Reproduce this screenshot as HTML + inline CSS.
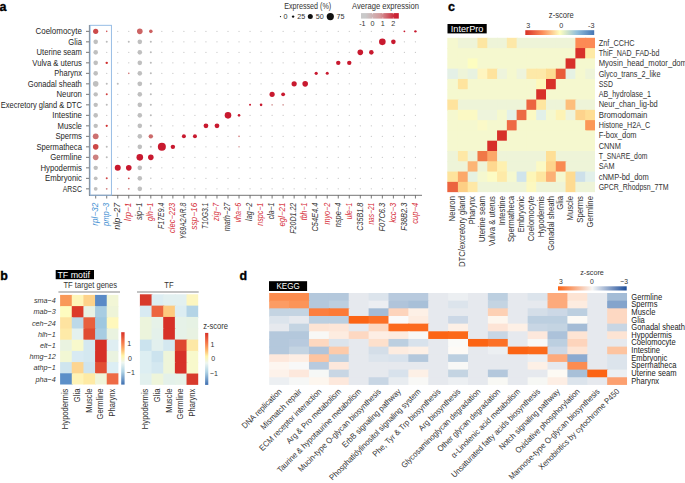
<!DOCTYPE html>
<html><head><meta charset="utf-8"><style>
html,body{margin:0;padding:0;background:#fff;}
svg{display:block;}
text{font-family:"Liberation Sans", sans-serif;}
</style></head><body>
<svg width="685" height="483" viewBox="0 0 685 483">
<rect width="685" height="483" fill="#fff"/>
<text x="-0.50" y="10.60" font-size="12.5" text-anchor="start" fill="#000" font-weight="bold" stroke="#000" stroke-width="0.35">a</text>
<text x="81.90" y="34.15" font-size="8.2" text-anchor="end" fill="#262626" font-weight="normal" textLength="46.4" lengthAdjust="spacingAndGlyphs">Coelomocyte</text>
<line x1="86.00" y1="31.35" x2="89.30" y2="31.35" stroke="#555" stroke-width="0.8"/>
<text x="81.90" y="44.65" font-size="8.2" text-anchor="end" fill="#262626" font-weight="normal" textLength="13.6" lengthAdjust="spacingAndGlyphs">Glia</text>
<line x1="86.00" y1="41.85" x2="89.30" y2="41.85" stroke="#555" stroke-width="0.8"/>
<text x="81.90" y="55.15" font-size="8.2" text-anchor="end" fill="#262626" font-weight="normal" textLength="45.3" lengthAdjust="spacingAndGlyphs">Uterine seam</text>
<line x1="86.00" y1="52.35" x2="89.30" y2="52.35" stroke="#555" stroke-width="0.8"/>
<text x="81.90" y="65.65" font-size="8.2" text-anchor="end" fill="#262626" font-weight="normal" textLength="49.6" lengthAdjust="spacingAndGlyphs">Vulva &amp; uterus</text>
<line x1="86.00" y1="62.85" x2="89.30" y2="62.85" stroke="#555" stroke-width="0.8"/>
<text x="81.90" y="76.15" font-size="8.2" text-anchor="end" fill="#262626" font-weight="normal" textLength="27.6" lengthAdjust="spacingAndGlyphs">Pharynx</text>
<line x1="86.00" y1="73.35" x2="89.30" y2="73.35" stroke="#555" stroke-width="0.8"/>
<text x="81.90" y="86.65" font-size="8.2" text-anchor="end" fill="#262626" font-weight="normal" textLength="54.2" lengthAdjust="spacingAndGlyphs">Gonadal sheath</text>
<line x1="86.00" y1="83.85" x2="89.30" y2="83.85" stroke="#555" stroke-width="0.8"/>
<text x="81.90" y="97.15" font-size="8.2" text-anchor="end" fill="#262626" font-weight="normal" textLength="25.4" lengthAdjust="spacingAndGlyphs">Neuron</text>
<line x1="86.00" y1="94.35" x2="89.30" y2="94.35" stroke="#555" stroke-width="0.8"/>
<text x="81.90" y="107.65" font-size="8.2" text-anchor="end" fill="#262626" font-weight="normal" textLength="81.2" lengthAdjust="spacingAndGlyphs">Execretory gland &amp; DTC</text>
<line x1="86.00" y1="104.85" x2="89.30" y2="104.85" stroke="#555" stroke-width="0.8"/>
<text x="81.90" y="118.15" font-size="8.2" text-anchor="end" fill="#262626" font-weight="normal" textLength="29.6" lengthAdjust="spacingAndGlyphs">Intestine</text>
<line x1="86.00" y1="115.35" x2="89.30" y2="115.35" stroke="#555" stroke-width="0.8"/>
<text x="81.90" y="128.65" font-size="8.2" text-anchor="end" fill="#262626" font-weight="normal" textLength="24.4" lengthAdjust="spacingAndGlyphs">Muscle</text>
<line x1="86.00" y1="125.85" x2="89.30" y2="125.85" stroke="#555" stroke-width="0.8"/>
<text x="81.90" y="139.15" font-size="8.2" text-anchor="end" fill="#262626" font-weight="normal" textLength="26.5" lengthAdjust="spacingAndGlyphs">Sperms</text>
<line x1="86.00" y1="136.35" x2="89.30" y2="136.35" stroke="#555" stroke-width="0.8"/>
<text x="81.90" y="149.65" font-size="8.2" text-anchor="end" fill="#262626" font-weight="normal" textLength="45.5" lengthAdjust="spacingAndGlyphs">Spermatheca</text>
<line x1="86.00" y1="146.85" x2="89.30" y2="146.85" stroke="#555" stroke-width="0.8"/>
<text x="81.90" y="160.15" font-size="8.2" text-anchor="end" fill="#262626" font-weight="normal" textLength="31.6" lengthAdjust="spacingAndGlyphs">Germline</text>
<line x1="86.00" y1="157.35" x2="89.30" y2="157.35" stroke="#555" stroke-width="0.8"/>
<text x="81.90" y="170.65" font-size="8.2" text-anchor="end" fill="#262626" font-weight="normal" textLength="41.4" lengthAdjust="spacingAndGlyphs">Hypodermis</text>
<line x1="86.00" y1="167.85" x2="89.30" y2="167.85" stroke="#555" stroke-width="0.8"/>
<text x="81.90" y="181.15" font-size="8.2" text-anchor="end" fill="#262626" font-weight="normal" textLength="36.8" lengthAdjust="spacingAndGlyphs">Embryonic</text>
<line x1="86.00" y1="178.35" x2="89.30" y2="178.35" stroke="#555" stroke-width="0.8"/>
<text x="81.90" y="191.65" font-size="8.2" text-anchor="end" fill="#262626" font-weight="normal" textLength="19.2" lengthAdjust="spacingAndGlyphs">ARSC</text>
<line x1="86.00" y1="188.85" x2="89.30" y2="188.85" stroke="#555" stroke-width="0.8"/>
<line x1="89.40" y1="25.00" x2="89.40" y2="195.60" stroke="#666" stroke-width="0.9"/>
<line x1="89.00" y1="195.30" x2="422.00" y2="195.30" stroke="#666" stroke-width="0.9"/>
<line x1="95.70" y1="195.30" x2="95.70" y2="198.50" stroke="#555" stroke-width="0.8"/>
<text x="98.00" y="202.70" font-size="8.2" text-anchor="end" fill="#4490d2" font-weight="normal" font-style="italic" transform="rotate(-90 98.0 202.7)" textLength="23.0" lengthAdjust="spacingAndGlyphs">rpl−32</text>
<line x1="106.73" y1="195.30" x2="106.73" y2="198.50" stroke="#555" stroke-width="0.8"/>
<text x="109.03" y="202.70" font-size="8.2" text-anchor="end" fill="#4490d2" font-weight="normal" font-style="italic" transform="rotate(-90 109.025 202.7)" textLength="23.3" lengthAdjust="spacingAndGlyphs">pmp−3</text>
<line x1="117.75" y1="195.30" x2="117.75" y2="198.50" stroke="#555" stroke-width="0.8"/>
<text x="120.05" y="202.70" font-size="8.2" text-anchor="end" fill="#333" font-weight="normal" font-style="italic" transform="rotate(-90 120.05 202.7)" textLength="27.0" lengthAdjust="spacingAndGlyphs">nlp−27</text>
<line x1="128.78" y1="195.30" x2="128.78" y2="198.50" stroke="#555" stroke-width="0.8"/>
<text x="131.08" y="202.70" font-size="8.2" text-anchor="end" fill="#d62f3a" font-weight="normal" font-style="italic" transform="rotate(-90 131.07500000000002 202.7)" textLength="18.2" lengthAdjust="spacingAndGlyphs">lrp−1</text>
<line x1="139.80" y1="195.30" x2="139.80" y2="198.50" stroke="#555" stroke-width="0.8"/>
<text x="142.10" y="202.70" font-size="8.2" text-anchor="end" fill="#333" font-weight="normal" font-style="italic" transform="rotate(-90 142.10000000000002 202.7)" textLength="17.4" lengthAdjust="spacingAndGlyphs">sip−1</text>
<line x1="150.82" y1="195.30" x2="150.82" y2="198.50" stroke="#555" stroke-width="0.8"/>
<text x="153.12" y="202.70" font-size="8.2" text-anchor="end" fill="#d62f3a" font-weight="normal" font-style="italic" transform="rotate(-90 153.125 202.7)" textLength="18.2" lengthAdjust="spacingAndGlyphs">glh−1</text>
<line x1="161.85" y1="195.30" x2="161.85" y2="198.50" stroke="#555" stroke-width="0.8"/>
<text x="164.15" y="202.70" font-size="8.2" text-anchor="end" fill="#333" font-weight="normal" font-style="italic" transform="rotate(-90 164.15000000000003 202.7)" textLength="26.2" lengthAdjust="spacingAndGlyphs">F17E9.4</text>
<line x1="172.88" y1="195.30" x2="172.88" y2="198.50" stroke="#555" stroke-width="0.8"/>
<text x="175.18" y="202.70" font-size="8.2" text-anchor="end" fill="#d62f3a" font-weight="normal" font-style="italic" transform="rotate(-90 175.175 202.7)" textLength="30.2" lengthAdjust="spacingAndGlyphs">clec−223</text>
<line x1="183.90" y1="195.30" x2="183.90" y2="198.50" stroke="#555" stroke-width="0.8"/>
<text x="186.20" y="202.70" font-size="8.2" text-anchor="end" fill="#333" font-weight="normal" font-style="italic" transform="rotate(-90 186.20000000000002 202.7)" textLength="36.6" lengthAdjust="spacingAndGlyphs">Y69A2AR.8</text>
<line x1="194.93" y1="195.30" x2="194.93" y2="198.50" stroke="#555" stroke-width="0.8"/>
<text x="197.23" y="202.70" font-size="8.2" text-anchor="end" fill="#d62f3a" font-weight="normal" font-style="italic" transform="rotate(-90 197.22500000000002 202.7)" textLength="27.0" lengthAdjust="spacingAndGlyphs">ssp−16</text>
<line x1="205.95" y1="195.30" x2="205.95" y2="198.50" stroke="#555" stroke-width="0.8"/>
<text x="208.25" y="202.70" font-size="8.2" text-anchor="end" fill="#333" font-weight="normal" font-style="italic" transform="rotate(-90 208.25 202.7)" textLength="26.2" lengthAdjust="spacingAndGlyphs">T10G3.1</text>
<line x1="216.98" y1="195.30" x2="216.98" y2="198.50" stroke="#555" stroke-width="0.8"/>
<text x="219.28" y="202.70" font-size="8.2" text-anchor="end" fill="#d62f3a" font-weight="normal" font-style="italic" transform="rotate(-90 219.27500000000003 202.7)" textLength="18.2" lengthAdjust="spacingAndGlyphs">zig−7</text>
<line x1="228.00" y1="195.30" x2="228.00" y2="198.50" stroke="#555" stroke-width="0.8"/>
<text x="230.30" y="202.70" font-size="8.2" text-anchor="end" fill="#333" font-weight="normal" font-style="italic" transform="rotate(-90 230.3 202.7)" textLength="28.6" lengthAdjust="spacingAndGlyphs">math−27</text>
<line x1="239.03" y1="195.30" x2="239.03" y2="198.50" stroke="#555" stroke-width="0.8"/>
<text x="241.33" y="202.70" font-size="8.2" text-anchor="end" fill="#d62f3a" font-weight="normal" font-style="italic" transform="rotate(-90 241.32500000000005 202.7)" textLength="19.8" lengthAdjust="spacingAndGlyphs">vha−6</text>
<line x1="250.05" y1="195.30" x2="250.05" y2="198.50" stroke="#555" stroke-width="0.8"/>
<text x="252.35" y="202.70" font-size="8.2" text-anchor="end" fill="#333" font-weight="normal" font-style="italic" transform="rotate(-90 252.35000000000002 202.7)" textLength="18.2" lengthAdjust="spacingAndGlyphs">lag−2</text>
<line x1="261.07" y1="195.30" x2="261.07" y2="198.50" stroke="#555" stroke-width="0.8"/>
<text x="263.38" y="202.70" font-size="8.2" text-anchor="end" fill="#d62f3a" font-weight="normal" font-style="italic" transform="rotate(-90 263.375 202.7)" textLength="23.0" lengthAdjust="spacingAndGlyphs">nspc−1</text>
<line x1="272.10" y1="195.30" x2="272.10" y2="198.50" stroke="#555" stroke-width="0.8"/>
<text x="274.40" y="202.70" font-size="8.2" text-anchor="end" fill="#333" font-weight="normal" font-style="italic" transform="rotate(-90 274.40000000000003 202.7)" textLength="16.6" lengthAdjust="spacingAndGlyphs">cla−1</text>
<line x1="283.12" y1="195.30" x2="283.12" y2="198.50" stroke="#555" stroke-width="0.8"/>
<text x="285.43" y="202.70" font-size="8.2" text-anchor="end" fill="#d62f3a" font-weight="normal" font-style="italic" transform="rotate(-90 285.425 202.7)" textLength="23.8" lengthAdjust="spacingAndGlyphs">egl−21</text>
<line x1="294.15" y1="195.30" x2="294.15" y2="198.50" stroke="#555" stroke-width="0.8"/>
<text x="296.45" y="202.70" font-size="8.2" text-anchor="end" fill="#333" font-weight="normal" font-style="italic" transform="rotate(-90 296.45000000000005 202.7)" textLength="31.0" lengthAdjust="spacingAndGlyphs">F20D1.22</text>
<line x1="305.18" y1="195.30" x2="305.18" y2="198.50" stroke="#555" stroke-width="0.8"/>
<text x="307.48" y="202.70" font-size="8.2" text-anchor="end" fill="#d62f3a" font-weight="normal" font-style="italic" transform="rotate(-90 307.475 202.7)" textLength="17.5" lengthAdjust="spacingAndGlyphs">tbh−1</text>
<line x1="316.20" y1="195.30" x2="316.20" y2="198.50" stroke="#555" stroke-width="0.8"/>
<text x="318.50" y="202.70" font-size="8.2" text-anchor="end" fill="#333" font-weight="normal" font-style="italic" transform="rotate(-90 318.5 202.7)" textLength="28.9" lengthAdjust="spacingAndGlyphs">C54E4.4</text>
<line x1="327.23" y1="195.30" x2="327.23" y2="198.50" stroke="#555" stroke-width="0.8"/>
<text x="329.53" y="202.70" font-size="8.2" text-anchor="end" fill="#d62f3a" font-weight="normal" font-style="italic" transform="rotate(-90 329.52500000000003 202.7)" textLength="21.9" lengthAdjust="spacingAndGlyphs">myo−2</text>
<line x1="338.25" y1="195.30" x2="338.25" y2="198.50" stroke="#555" stroke-width="0.8"/>
<text x="340.55" y="202.70" font-size="8.2" text-anchor="end" fill="#333" font-weight="normal" font-style="italic" transform="rotate(-90 340.55 202.7)" textLength="24.5" lengthAdjust="spacingAndGlyphs">nspe−4</text>
<line x1="349.28" y1="195.30" x2="349.28" y2="198.50" stroke="#555" stroke-width="0.8"/>
<text x="351.58" y="202.70" font-size="8.2" text-anchor="end" fill="#d62f3a" font-weight="normal" font-style="italic" transform="rotate(-90 351.57500000000005 202.7)" textLength="16.6" lengthAdjust="spacingAndGlyphs">ule−1</text>
<line x1="360.30" y1="195.30" x2="360.30" y2="198.50" stroke="#555" stroke-width="0.8"/>
<text x="362.60" y="202.70" font-size="8.2" text-anchor="end" fill="#333" font-weight="normal" font-style="italic" transform="rotate(-90 362.6 202.7)" textLength="28.0" lengthAdjust="spacingAndGlyphs">C35B1.8</text>
<line x1="371.32" y1="195.30" x2="371.32" y2="198.50" stroke="#555" stroke-width="0.8"/>
<text x="373.62" y="202.70" font-size="8.2" text-anchor="end" fill="#d62f3a" font-weight="normal" font-style="italic" transform="rotate(-90 373.625 202.7)" textLength="21.9" lengthAdjust="spacingAndGlyphs">nas−21</text>
<line x1="382.35" y1="195.30" x2="382.35" y2="198.50" stroke="#555" stroke-width="0.8"/>
<text x="384.65" y="202.70" font-size="8.2" text-anchor="end" fill="#333" font-weight="normal" font-style="italic" transform="rotate(-90 384.65000000000003 202.7)" textLength="28.9" lengthAdjust="spacingAndGlyphs">F07C6.3</text>
<line x1="393.38" y1="195.30" x2="393.38" y2="198.50" stroke="#555" stroke-width="0.8"/>
<text x="395.68" y="202.70" font-size="8.2" text-anchor="end" fill="#d62f3a" font-weight="normal" font-style="italic" transform="rotate(-90 395.675 202.7)" textLength="20.1" lengthAdjust="spacingAndGlyphs">kcc−3</text>
<line x1="404.40" y1="195.30" x2="404.40" y2="198.50" stroke="#555" stroke-width="0.8"/>
<text x="406.70" y="202.70" font-size="8.2" text-anchor="end" fill="#333" font-weight="normal" font-style="italic" transform="rotate(-90 406.7 202.7)" textLength="28.0" lengthAdjust="spacingAndGlyphs">F38B2.3</text>
<line x1="415.43" y1="195.30" x2="415.43" y2="198.50" stroke="#555" stroke-width="0.8"/>
<text x="417.73" y="202.70" font-size="8.2" text-anchor="end" fill="#d62f3a" font-weight="normal" font-style="italic" transform="rotate(-90 417.725 202.7)" textLength="21.0" lengthAdjust="spacingAndGlyphs">cup−4</text>
<rect x="90.1" y="25.3" width="21.3" height="169.9" fill="none" stroke="#8cb6e2" stroke-width="0.9"/>
<circle cx="95.70" cy="31.35" r="2.60" fill="#cc4a4a"/>
<circle cx="106.73" cy="31.35" r="0.80" fill="#d05050"/>
<circle cx="117.75" cy="31.35" r="0.65" fill="#c4c4c4"/>
<circle cx="128.78" cy="31.35" r="0.65" fill="#c4c4c4"/>
<circle cx="139.80" cy="31.35" r="2.80" fill="#cc6464"/>
<circle cx="150.82" cy="31.35" r="1.80" fill="#cc6060"/>
<circle cx="161.85" cy="31.35" r="0.65" fill="#c4c4c4"/>
<circle cx="172.88" cy="31.35" r="0.65" fill="#c4c4c4"/>
<circle cx="183.90" cy="31.35" r="0.65" fill="#c4c4c4"/>
<circle cx="194.93" cy="31.35" r="0.65" fill="#c4c4c4"/>
<circle cx="205.95" cy="31.35" r="0.65" fill="#c4c4c4"/>
<circle cx="216.98" cy="31.35" r="0.65" fill="#c4c4c4"/>
<circle cx="228.00" cy="31.35" r="0.65" fill="#c4c4c4"/>
<circle cx="239.03" cy="31.35" r="0.65" fill="#c4c4c4"/>
<circle cx="250.05" cy="31.35" r="0.65" fill="#c4c4c4"/>
<circle cx="261.07" cy="31.35" r="0.65" fill="#c4c4c4"/>
<circle cx="272.10" cy="31.35" r="0.65" fill="#c4c4c4"/>
<circle cx="283.12" cy="31.35" r="0.65" fill="#c4c4c4"/>
<circle cx="294.15" cy="31.35" r="0.65" fill="#c4c4c4"/>
<circle cx="305.18" cy="31.35" r="0.65" fill="#c4c4c4"/>
<circle cx="316.20" cy="31.35" r="0.65" fill="#c4c4c4"/>
<circle cx="327.23" cy="31.35" r="0.65" fill="#c4c4c4"/>
<circle cx="338.25" cy="31.35" r="0.65" fill="#c4c4c4"/>
<circle cx="349.28" cy="31.35" r="0.65" fill="#c4c4c4"/>
<circle cx="360.30" cy="31.35" r="0.65" fill="#c4c4c4"/>
<circle cx="371.32" cy="31.35" r="0.65" fill="#c4c4c4"/>
<circle cx="382.35" cy="31.35" r="0.65" fill="#c4c4c4"/>
<circle cx="393.38" cy="31.35" r="0.65" fill="#c4c4c4"/>
<circle cx="404.40" cy="31.35" r="0.90" fill="#c8192f"/>
<circle cx="415.43" cy="31.35" r="1.20" fill="#c8192f"/>
<circle cx="95.70" cy="41.85" r="2.30" fill="#bfbfbf"/>
<circle cx="106.73" cy="41.85" r="1.00" fill="#bbbbbb"/>
<circle cx="117.75" cy="41.85" r="0.65" fill="#c4c4c4"/>
<circle cx="128.78" cy="41.85" r="1.00" fill="#bbbbbb"/>
<circle cx="139.80" cy="41.85" r="2.30" fill="#bfbfbf"/>
<circle cx="150.82" cy="41.85" r="1.00" fill="#bbbbbb"/>
<circle cx="161.85" cy="41.85" r="0.65" fill="#c4c4c4"/>
<circle cx="172.88" cy="41.85" r="0.65" fill="#c4c4c4"/>
<circle cx="183.90" cy="41.85" r="0.65" fill="#c4c4c4"/>
<circle cx="194.93" cy="41.85" r="0.65" fill="#c4c4c4"/>
<circle cx="205.95" cy="41.85" r="0.65" fill="#c4c4c4"/>
<circle cx="216.98" cy="41.85" r="0.65" fill="#c4c4c4"/>
<circle cx="228.00" cy="41.85" r="0.65" fill="#c4c4c4"/>
<circle cx="239.03" cy="41.85" r="0.65" fill="#c4c4c4"/>
<circle cx="250.05" cy="41.85" r="0.65" fill="#c4c4c4"/>
<circle cx="261.07" cy="41.85" r="0.65" fill="#c4c4c4"/>
<circle cx="272.10" cy="41.85" r="0.65" fill="#c4c4c4"/>
<circle cx="283.12" cy="41.85" r="0.65" fill="#c4c4c4"/>
<circle cx="294.15" cy="41.85" r="0.65" fill="#c4c4c4"/>
<circle cx="305.18" cy="41.85" r="0.65" fill="#c4c4c4"/>
<circle cx="316.20" cy="41.85" r="0.65" fill="#c4c4c4"/>
<circle cx="327.23" cy="41.85" r="0.65" fill="#c4c4c4"/>
<circle cx="338.25" cy="41.85" r="0.65" fill="#c4c4c4"/>
<circle cx="349.28" cy="41.85" r="0.65" fill="#c4c4c4"/>
<circle cx="360.30" cy="41.85" r="0.65" fill="#c4c4c4"/>
<circle cx="371.32" cy="41.85" r="0.65" fill="#c4c4c4"/>
<circle cx="382.35" cy="41.85" r="3.30" fill="#c8192f"/>
<circle cx="393.38" cy="41.85" r="2.30" fill="#c8192f"/>
<circle cx="404.40" cy="41.85" r="0.65" fill="#c4c4c4"/>
<circle cx="415.43" cy="41.85" r="0.65" fill="#c4c4c4"/>
<circle cx="95.70" cy="52.35" r="2.30" fill="#bfbfbf"/>
<circle cx="106.73" cy="52.35" r="0.70" fill="#c8c8c8"/>
<circle cx="117.75" cy="52.35" r="0.65" fill="#c4c4c4"/>
<circle cx="128.78" cy="52.35" r="0.65" fill="#c4c4c4"/>
<circle cx="139.80" cy="52.35" r="2.30" fill="#bfbfbf"/>
<circle cx="150.82" cy="52.35" r="1.00" fill="#bbbbbb"/>
<circle cx="161.85" cy="52.35" r="0.65" fill="#c4c4c4"/>
<circle cx="172.88" cy="52.35" r="0.65" fill="#c4c4c4"/>
<circle cx="183.90" cy="52.35" r="0.65" fill="#c4c4c4"/>
<circle cx="194.93" cy="52.35" r="0.65" fill="#c4c4c4"/>
<circle cx="205.95" cy="52.35" r="0.65" fill="#c4c4c4"/>
<circle cx="216.98" cy="52.35" r="0.65" fill="#c4c4c4"/>
<circle cx="228.00" cy="52.35" r="0.65" fill="#c4c4c4"/>
<circle cx="239.03" cy="52.35" r="0.65" fill="#c4c4c4"/>
<circle cx="250.05" cy="52.35" r="0.65" fill="#c4c4c4"/>
<circle cx="261.07" cy="52.35" r="0.65" fill="#c4c4c4"/>
<circle cx="272.10" cy="52.35" r="0.65" fill="#c4c4c4"/>
<circle cx="283.12" cy="52.35" r="0.65" fill="#c4c4c4"/>
<circle cx="294.15" cy="52.35" r="0.65" fill="#c4c4c4"/>
<circle cx="305.18" cy="52.35" r="0.65" fill="#c4c4c4"/>
<circle cx="316.20" cy="52.35" r="0.65" fill="#c4c4c4"/>
<circle cx="327.23" cy="52.35" r="0.65" fill="#c4c4c4"/>
<circle cx="338.25" cy="52.35" r="0.65" fill="#c4c4c4"/>
<circle cx="349.28" cy="52.35" r="0.65" fill="#c4c4c4"/>
<circle cx="360.30" cy="52.35" r="2.80" fill="#c8192f"/>
<circle cx="371.32" cy="52.35" r="2.30" fill="#c8192f"/>
<circle cx="382.35" cy="52.35" r="0.65" fill="#c4c4c4"/>
<circle cx="393.38" cy="52.35" r="0.65" fill="#c4c4c4"/>
<circle cx="404.40" cy="52.35" r="0.65" fill="#c4c4c4"/>
<circle cx="415.43" cy="52.35" r="0.65" fill="#c4c4c4"/>
<circle cx="95.70" cy="62.85" r="2.30" fill="#bfbfbf"/>
<circle cx="106.73" cy="62.85" r="1.20" fill="#d03030"/>
<circle cx="117.75" cy="62.85" r="0.65" fill="#c4c4c4"/>
<circle cx="128.78" cy="62.85" r="0.65" fill="#c4c4c4"/>
<circle cx="139.80" cy="62.85" r="2.30" fill="#bfbfbf"/>
<circle cx="150.82" cy="62.85" r="1.00" fill="#bbbbbb"/>
<circle cx="161.85" cy="62.85" r="0.65" fill="#c4c4c4"/>
<circle cx="172.88" cy="62.85" r="0.65" fill="#c4c4c4"/>
<circle cx="183.90" cy="62.85" r="0.65" fill="#c4c4c4"/>
<circle cx="194.93" cy="62.85" r="0.65" fill="#c4c4c4"/>
<circle cx="205.95" cy="62.85" r="0.65" fill="#c4c4c4"/>
<circle cx="216.98" cy="62.85" r="0.65" fill="#c4c4c4"/>
<circle cx="228.00" cy="62.85" r="0.65" fill="#c4c4c4"/>
<circle cx="239.03" cy="62.85" r="0.65" fill="#c4c4c4"/>
<circle cx="250.05" cy="62.85" r="0.65" fill="#c4c4c4"/>
<circle cx="261.07" cy="62.85" r="0.65" fill="#c4c4c4"/>
<circle cx="272.10" cy="62.85" r="0.65" fill="#c4c4c4"/>
<circle cx="283.12" cy="62.85" r="0.65" fill="#c4c4c4"/>
<circle cx="294.15" cy="62.85" r="0.65" fill="#c4c4c4"/>
<circle cx="305.18" cy="62.85" r="0.65" fill="#c4c4c4"/>
<circle cx="316.20" cy="62.85" r="0.65" fill="#c4c4c4"/>
<circle cx="327.23" cy="62.85" r="0.65" fill="#c4c4c4"/>
<circle cx="338.25" cy="62.85" r="2.20" fill="#c8192f"/>
<circle cx="349.28" cy="62.85" r="2.20" fill="#c8192f"/>
<circle cx="360.30" cy="62.85" r="0.65" fill="#c4c4c4"/>
<circle cx="371.32" cy="62.85" r="0.65" fill="#c4c4c4"/>
<circle cx="382.35" cy="62.85" r="0.65" fill="#c4c4c4"/>
<circle cx="393.38" cy="62.85" r="0.65" fill="#c4c4c4"/>
<circle cx="404.40" cy="62.85" r="0.65" fill="#c4c4c4"/>
<circle cx="415.43" cy="62.85" r="0.65" fill="#c4c4c4"/>
<circle cx="95.70" cy="73.35" r="2.30" fill="#bfbfbf"/>
<circle cx="106.73" cy="73.35" r="0.70" fill="#c8c8c8"/>
<circle cx="117.75" cy="73.35" r="0.65" fill="#c4c4c4"/>
<circle cx="128.78" cy="73.35" r="0.80" fill="#d07070"/>
<circle cx="139.80" cy="73.35" r="2.30" fill="#bfbfbf"/>
<circle cx="150.82" cy="73.35" r="1.00" fill="#bbbbbb"/>
<circle cx="161.85" cy="73.35" r="0.65" fill="#c4c4c4"/>
<circle cx="172.88" cy="73.35" r="0.65" fill="#c4c4c4"/>
<circle cx="183.90" cy="73.35" r="0.65" fill="#c4c4c4"/>
<circle cx="194.93" cy="73.35" r="0.65" fill="#c4c4c4"/>
<circle cx="205.95" cy="73.35" r="0.65" fill="#c4c4c4"/>
<circle cx="216.98" cy="73.35" r="0.65" fill="#c4c4c4"/>
<circle cx="228.00" cy="73.35" r="0.65" fill="#c4c4c4"/>
<circle cx="239.03" cy="73.35" r="0.65" fill="#c4c4c4"/>
<circle cx="250.05" cy="73.35" r="0.65" fill="#c4c4c4"/>
<circle cx="261.07" cy="73.35" r="0.65" fill="#c4c4c4"/>
<circle cx="272.10" cy="73.35" r="0.65" fill="#c4c4c4"/>
<circle cx="283.12" cy="73.35" r="0.65" fill="#c4c4c4"/>
<circle cx="294.15" cy="73.35" r="0.65" fill="#c4c4c4"/>
<circle cx="305.18" cy="73.35" r="0.65" fill="#c4c4c4"/>
<circle cx="316.20" cy="73.35" r="1.60" fill="#c8192f"/>
<circle cx="327.23" cy="73.35" r="1.50" fill="#c8192f"/>
<circle cx="338.25" cy="73.35" r="0.65" fill="#c4c4c4"/>
<circle cx="349.28" cy="73.35" r="0.65" fill="#c4c4c4"/>
<circle cx="360.30" cy="73.35" r="0.65" fill="#c4c4c4"/>
<circle cx="371.32" cy="73.35" r="0.65" fill="#c4c4c4"/>
<circle cx="382.35" cy="73.35" r="0.65" fill="#c4c4c4"/>
<circle cx="393.38" cy="73.35" r="0.65" fill="#c4c4c4"/>
<circle cx="404.40" cy="73.35" r="0.65" fill="#c4c4c4"/>
<circle cx="415.43" cy="73.35" r="0.65" fill="#c4c4c4"/>
<circle cx="95.70" cy="83.85" r="2.80" fill="#bfbfbf"/>
<circle cx="106.73" cy="83.85" r="1.00" fill="#bbbbbb"/>
<circle cx="117.75" cy="83.85" r="1.00" fill="#bbbbbb"/>
<circle cx="128.78" cy="83.85" r="0.65" fill="#c4c4c4"/>
<circle cx="139.80" cy="83.85" r="2.40" fill="#bfbfbf"/>
<circle cx="150.82" cy="83.85" r="1.00" fill="#bbbbbb"/>
<circle cx="161.85" cy="83.85" r="0.65" fill="#c4c4c4"/>
<circle cx="172.88" cy="83.85" r="0.65" fill="#c4c4c4"/>
<circle cx="183.90" cy="83.85" r="0.65" fill="#c4c4c4"/>
<circle cx="194.93" cy="83.85" r="0.65" fill="#c4c4c4"/>
<circle cx="205.95" cy="83.85" r="0.65" fill="#c4c4c4"/>
<circle cx="216.98" cy="83.85" r="0.65" fill="#c4c4c4"/>
<circle cx="228.00" cy="83.85" r="0.65" fill="#c4c4c4"/>
<circle cx="239.03" cy="83.85" r="0.65" fill="#c4c4c4"/>
<circle cx="250.05" cy="83.85" r="0.65" fill="#c4c4c4"/>
<circle cx="261.07" cy="83.85" r="0.65" fill="#c4c4c4"/>
<circle cx="272.10" cy="83.85" r="0.65" fill="#c4c4c4"/>
<circle cx="283.12" cy="83.85" r="0.65" fill="#c4c4c4"/>
<circle cx="294.15" cy="83.85" r="2.60" fill="#c8192f"/>
<circle cx="305.18" cy="83.85" r="2.80" fill="#c8192f"/>
<circle cx="316.20" cy="83.85" r="0.65" fill="#c4c4c4"/>
<circle cx="327.23" cy="83.85" r="0.65" fill="#c4c4c4"/>
<circle cx="338.25" cy="83.85" r="0.65" fill="#c4c4c4"/>
<circle cx="349.28" cy="83.85" r="0.65" fill="#c4c4c4"/>
<circle cx="360.30" cy="83.85" r="0.65" fill="#c4c4c4"/>
<circle cx="371.32" cy="83.85" r="0.65" fill="#c4c4c4"/>
<circle cx="382.35" cy="83.85" r="0.65" fill="#c4c4c4"/>
<circle cx="393.38" cy="83.85" r="0.65" fill="#c4c4c4"/>
<circle cx="404.40" cy="83.85" r="0.65" fill="#c4c4c4"/>
<circle cx="415.43" cy="83.85" r="0.65" fill="#c4c4c4"/>
<circle cx="95.70" cy="94.35" r="2.20" fill="#bfbfbf"/>
<circle cx="106.73" cy="94.35" r="1.00" fill="#d04040"/>
<circle cx="117.75" cy="94.35" r="0.65" fill="#c4c4c4"/>
<circle cx="128.78" cy="94.35" r="0.65" fill="#c4c4c4"/>
<circle cx="139.80" cy="94.35" r="2.30" fill="#bfbfbf"/>
<circle cx="150.82" cy="94.35" r="1.00" fill="#bbbbbb"/>
<circle cx="161.85" cy="94.35" r="0.65" fill="#c4c4c4"/>
<circle cx="172.88" cy="94.35" r="0.65" fill="#c4c4c4"/>
<circle cx="183.90" cy="94.35" r="0.65" fill="#c4c4c4"/>
<circle cx="194.93" cy="94.35" r="0.65" fill="#c4c4c4"/>
<circle cx="205.95" cy="94.35" r="0.65" fill="#c4c4c4"/>
<circle cx="216.98" cy="94.35" r="0.65" fill="#c4c4c4"/>
<circle cx="228.00" cy="94.35" r="0.65" fill="#c4c4c4"/>
<circle cx="239.03" cy="94.35" r="0.65" fill="#c4c4c4"/>
<circle cx="250.05" cy="94.35" r="0.65" fill="#c4c4c4"/>
<circle cx="261.07" cy="94.35" r="0.65" fill="#c4c4c4"/>
<circle cx="272.10" cy="94.35" r="2.60" fill="#c8192f"/>
<circle cx="283.12" cy="94.35" r="1.90" fill="#c8192f"/>
<circle cx="294.15" cy="94.35" r="0.65" fill="#c4c4c4"/>
<circle cx="305.18" cy="94.35" r="0.65" fill="#c4c4c4"/>
<circle cx="316.20" cy="94.35" r="0.65" fill="#c4c4c4"/>
<circle cx="327.23" cy="94.35" r="0.65" fill="#c4c4c4"/>
<circle cx="338.25" cy="94.35" r="0.65" fill="#c4c4c4"/>
<circle cx="349.28" cy="94.35" r="0.65" fill="#c4c4c4"/>
<circle cx="360.30" cy="94.35" r="0.65" fill="#c4c4c4"/>
<circle cx="371.32" cy="94.35" r="0.65" fill="#c4c4c4"/>
<circle cx="382.35" cy="94.35" r="0.65" fill="#c4c4c4"/>
<circle cx="393.38" cy="94.35" r="0.65" fill="#c4c4c4"/>
<circle cx="404.40" cy="94.35" r="0.65" fill="#c4c4c4"/>
<circle cx="415.43" cy="94.35" r="0.65" fill="#c4c4c4"/>
<circle cx="95.70" cy="104.85" r="2.20" fill="#bfbfbf"/>
<circle cx="106.73" cy="104.85" r="1.00" fill="#bbbbbb"/>
<circle cx="117.75" cy="104.85" r="0.65" fill="#c4c4c4"/>
<circle cx="128.78" cy="104.85" r="0.65" fill="#c4c4c4"/>
<circle cx="139.80" cy="104.85" r="2.30" fill="#bfbfbf"/>
<circle cx="150.82" cy="104.85" r="1.00" fill="#bbbbbb"/>
<circle cx="161.85" cy="104.85" r="0.65" fill="#c4c4c4"/>
<circle cx="172.88" cy="104.85" r="0.65" fill="#c4c4c4"/>
<circle cx="183.90" cy="104.85" r="0.65" fill="#c4c4c4"/>
<circle cx="194.93" cy="104.85" r="0.65" fill="#c4c4c4"/>
<circle cx="205.95" cy="104.85" r="0.65" fill="#c4c4c4"/>
<circle cx="216.98" cy="104.85" r="0.65" fill="#c4c4c4"/>
<circle cx="228.00" cy="104.85" r="0.65" fill="#c4c4c4"/>
<circle cx="239.03" cy="104.85" r="0.65" fill="#c4c4c4"/>
<circle cx="250.05" cy="104.85" r="1.00" fill="#c8192f"/>
<circle cx="261.07" cy="104.85" r="1.30" fill="#c8192f"/>
<circle cx="272.10" cy="104.85" r="0.90" fill="#d8a0a0"/>
<circle cx="283.12" cy="104.85" r="0.90" fill="#d8a0a0"/>
<circle cx="294.15" cy="104.85" r="0.65" fill="#c4c4c4"/>
<circle cx="305.18" cy="104.85" r="0.65" fill="#c4c4c4"/>
<circle cx="316.20" cy="104.85" r="0.65" fill="#c4c4c4"/>
<circle cx="327.23" cy="104.85" r="0.65" fill="#c4c4c4"/>
<circle cx="338.25" cy="104.85" r="0.65" fill="#c4c4c4"/>
<circle cx="349.28" cy="104.85" r="0.65" fill="#c4c4c4"/>
<circle cx="360.30" cy="104.85" r="0.65" fill="#c4c4c4"/>
<circle cx="371.32" cy="104.85" r="0.65" fill="#c4c4c4"/>
<circle cx="382.35" cy="104.85" r="0.65" fill="#c4c4c4"/>
<circle cx="393.38" cy="104.85" r="0.65" fill="#c4c4c4"/>
<circle cx="404.40" cy="104.85" r="0.65" fill="#c4c4c4"/>
<circle cx="415.43" cy="104.85" r="0.65" fill="#c4c4c4"/>
<circle cx="95.70" cy="115.35" r="2.30" fill="#bfbfbf"/>
<circle cx="106.73" cy="115.35" r="0.70" fill="#c8c8c8"/>
<circle cx="117.75" cy="115.35" r="0.65" fill="#c4c4c4"/>
<circle cx="128.78" cy="115.35" r="0.65" fill="#c4c4c4"/>
<circle cx="139.80" cy="115.35" r="2.30" fill="#bfbfbf"/>
<circle cx="150.82" cy="115.35" r="1.00" fill="#bbbbbb"/>
<circle cx="161.85" cy="115.35" r="0.65" fill="#c4c4c4"/>
<circle cx="172.88" cy="115.35" r="0.65" fill="#c4c4c4"/>
<circle cx="183.90" cy="115.35" r="0.65" fill="#c4c4c4"/>
<circle cx="194.93" cy="115.35" r="0.65" fill="#c4c4c4"/>
<circle cx="205.95" cy="115.35" r="0.65" fill="#c4c4c4"/>
<circle cx="216.98" cy="115.35" r="0.65" fill="#c4c4c4"/>
<circle cx="228.00" cy="115.35" r="3.30" fill="#c8192f"/>
<circle cx="239.03" cy="115.35" r="1.30" fill="#c8192f"/>
<circle cx="250.05" cy="115.35" r="0.65" fill="#c4c4c4"/>
<circle cx="261.07" cy="115.35" r="0.65" fill="#c4c4c4"/>
<circle cx="272.10" cy="115.35" r="0.65" fill="#c4c4c4"/>
<circle cx="283.12" cy="115.35" r="0.65" fill="#c4c4c4"/>
<circle cx="294.15" cy="115.35" r="0.65" fill="#c4c4c4"/>
<circle cx="305.18" cy="115.35" r="0.65" fill="#c4c4c4"/>
<circle cx="316.20" cy="115.35" r="0.65" fill="#c4c4c4"/>
<circle cx="327.23" cy="115.35" r="0.65" fill="#c4c4c4"/>
<circle cx="338.25" cy="115.35" r="0.65" fill="#c4c4c4"/>
<circle cx="349.28" cy="115.35" r="0.65" fill="#c4c4c4"/>
<circle cx="360.30" cy="115.35" r="0.65" fill="#c4c4c4"/>
<circle cx="371.32" cy="115.35" r="0.65" fill="#c4c4c4"/>
<circle cx="382.35" cy="115.35" r="0.65" fill="#c4c4c4"/>
<circle cx="393.38" cy="115.35" r="0.65" fill="#c4c4c4"/>
<circle cx="404.40" cy="115.35" r="0.65" fill="#c4c4c4"/>
<circle cx="415.43" cy="115.35" r="0.65" fill="#c4c4c4"/>
<circle cx="95.70" cy="125.85" r="2.20" fill="#bfbfbf"/>
<circle cx="106.73" cy="125.85" r="1.10" fill="#d03030"/>
<circle cx="117.75" cy="125.85" r="0.65" fill="#c4c4c4"/>
<circle cx="128.78" cy="125.85" r="0.65" fill="#c4c4c4"/>
<circle cx="139.80" cy="125.85" r="2.30" fill="#bfbfbf"/>
<circle cx="150.82" cy="125.85" r="1.00" fill="#bbbbbb"/>
<circle cx="161.85" cy="125.85" r="0.65" fill="#c4c4c4"/>
<circle cx="172.88" cy="125.85" r="0.65" fill="#c4c4c4"/>
<circle cx="183.90" cy="125.85" r="0.65" fill="#c4c4c4"/>
<circle cx="194.93" cy="125.85" r="0.65" fill="#c4c4c4"/>
<circle cx="205.95" cy="125.85" r="2.40" fill="#c8192f"/>
<circle cx="216.98" cy="125.85" r="2.40" fill="#c8192f"/>
<circle cx="228.00" cy="125.85" r="0.65" fill="#c4c4c4"/>
<circle cx="239.03" cy="125.85" r="0.65" fill="#c4c4c4"/>
<circle cx="250.05" cy="125.85" r="0.65" fill="#c4c4c4"/>
<circle cx="261.07" cy="125.85" r="0.65" fill="#c4c4c4"/>
<circle cx="272.10" cy="125.85" r="0.65" fill="#c4c4c4"/>
<circle cx="283.12" cy="125.85" r="0.65" fill="#c4c4c4"/>
<circle cx="294.15" cy="125.85" r="0.65" fill="#c4c4c4"/>
<circle cx="305.18" cy="125.85" r="0.65" fill="#c4c4c4"/>
<circle cx="316.20" cy="125.85" r="0.65" fill="#c4c4c4"/>
<circle cx="327.23" cy="125.85" r="0.65" fill="#c4c4c4"/>
<circle cx="338.25" cy="125.85" r="0.65" fill="#c4c4c4"/>
<circle cx="349.28" cy="125.85" r="0.65" fill="#c4c4c4"/>
<circle cx="360.30" cy="125.85" r="0.65" fill="#c4c4c4"/>
<circle cx="371.32" cy="125.85" r="0.65" fill="#c4c4c4"/>
<circle cx="382.35" cy="125.85" r="0.65" fill="#c4c4c4"/>
<circle cx="393.38" cy="125.85" r="0.65" fill="#c4c4c4"/>
<circle cx="404.40" cy="125.85" r="0.65" fill="#c4c4c4"/>
<circle cx="415.43" cy="125.85" r="0.65" fill="#c4c4c4"/>
<circle cx="95.70" cy="136.35" r="2.90" fill="#cc7070"/>
<circle cx="106.73" cy="136.35" r="0.70" fill="#c8c8c8"/>
<circle cx="117.75" cy="136.35" r="0.65" fill="#c4c4c4"/>
<circle cx="128.78" cy="136.35" r="0.65" fill="#c4c4c4"/>
<circle cx="139.80" cy="136.35" r="2.30" fill="#bfbfbf"/>
<circle cx="150.82" cy="136.35" r="2.20" fill="#cc6a6a"/>
<circle cx="161.85" cy="136.35" r="0.65" fill="#c4c4c4"/>
<circle cx="172.88" cy="136.35" r="0.65" fill="#c4c4c4"/>
<circle cx="183.90" cy="136.35" r="2.00" fill="#c8192f"/>
<circle cx="194.93" cy="136.35" r="2.00" fill="#c8192f"/>
<circle cx="205.95" cy="136.35" r="0.65" fill="#c4c4c4"/>
<circle cx="216.98" cy="136.35" r="0.65" fill="#c4c4c4"/>
<circle cx="228.00" cy="136.35" r="0.65" fill="#c4c4c4"/>
<circle cx="239.03" cy="136.35" r="0.80" fill="#d07070"/>
<circle cx="250.05" cy="136.35" r="0.65" fill="#c4c4c4"/>
<circle cx="261.07" cy="136.35" r="0.65" fill="#c4c4c4"/>
<circle cx="272.10" cy="136.35" r="0.65" fill="#c4c4c4"/>
<circle cx="283.12" cy="136.35" r="0.65" fill="#c4c4c4"/>
<circle cx="294.15" cy="136.35" r="0.65" fill="#c4c4c4"/>
<circle cx="305.18" cy="136.35" r="0.65" fill="#c4c4c4"/>
<circle cx="316.20" cy="136.35" r="0.65" fill="#c4c4c4"/>
<circle cx="327.23" cy="136.35" r="0.65" fill="#c4c4c4"/>
<circle cx="338.25" cy="136.35" r="0.65" fill="#c4c4c4"/>
<circle cx="349.28" cy="136.35" r="0.65" fill="#c4c4c4"/>
<circle cx="360.30" cy="136.35" r="0.65" fill="#c4c4c4"/>
<circle cx="371.32" cy="136.35" r="0.65" fill="#c4c4c4"/>
<circle cx="382.35" cy="136.35" r="0.65" fill="#c4c4c4"/>
<circle cx="393.38" cy="136.35" r="0.65" fill="#c4c4c4"/>
<circle cx="404.40" cy="136.35" r="0.65" fill="#c4c4c4"/>
<circle cx="415.43" cy="136.35" r="0.65" fill="#c4c4c4"/>
<circle cx="95.70" cy="146.85" r="2.80" fill="#cc4848"/>
<circle cx="106.73" cy="146.85" r="1.00" fill="#bbbbbb"/>
<circle cx="117.75" cy="146.85" r="0.65" fill="#c4c4c4"/>
<circle cx="128.78" cy="146.85" r="0.65" fill="#c4c4c4"/>
<circle cx="139.80" cy="146.85" r="2.30" fill="#bfbfbf"/>
<circle cx="150.82" cy="146.85" r="1.00" fill="#bbbbbb"/>
<circle cx="161.85" cy="146.85" r="4.00" fill="#c8192f"/>
<circle cx="172.88" cy="146.85" r="2.20" fill="#c8192f"/>
<circle cx="183.90" cy="146.85" r="0.65" fill="#c4c4c4"/>
<circle cx="194.93" cy="146.85" r="0.65" fill="#c4c4c4"/>
<circle cx="205.95" cy="146.85" r="0.65" fill="#c4c4c4"/>
<circle cx="216.98" cy="146.85" r="0.65" fill="#c4c4c4"/>
<circle cx="228.00" cy="146.85" r="0.65" fill="#c4c4c4"/>
<circle cx="239.03" cy="146.85" r="0.80" fill="#d8a0a0"/>
<circle cx="250.05" cy="146.85" r="0.65" fill="#c4c4c4"/>
<circle cx="261.07" cy="146.85" r="0.65" fill="#c4c4c4"/>
<circle cx="272.10" cy="146.85" r="0.65" fill="#c4c4c4"/>
<circle cx="283.12" cy="146.85" r="0.65" fill="#c4c4c4"/>
<circle cx="294.15" cy="146.85" r="0.65" fill="#c4c4c4"/>
<circle cx="305.18" cy="146.85" r="0.65" fill="#c4c4c4"/>
<circle cx="316.20" cy="146.85" r="0.65" fill="#c4c4c4"/>
<circle cx="327.23" cy="146.85" r="0.65" fill="#c4c4c4"/>
<circle cx="338.25" cy="146.85" r="0.65" fill="#c4c4c4"/>
<circle cx="349.28" cy="146.85" r="0.65" fill="#c4c4c4"/>
<circle cx="360.30" cy="146.85" r="0.65" fill="#c4c4c4"/>
<circle cx="371.32" cy="146.85" r="0.65" fill="#c4c4c4"/>
<circle cx="382.35" cy="146.85" r="0.65" fill="#c4c4c4"/>
<circle cx="393.38" cy="146.85" r="0.65" fill="#c4c4c4"/>
<circle cx="404.40" cy="146.85" r="0.65" fill="#c4c4c4"/>
<circle cx="415.43" cy="146.85" r="0.65" fill="#c4c4c4"/>
<circle cx="95.70" cy="157.35" r="2.80" fill="#cc8080"/>
<circle cx="106.73" cy="157.35" r="1.00" fill="#bbbbbb"/>
<circle cx="117.75" cy="157.35" r="0.65" fill="#c4c4c4"/>
<circle cx="128.78" cy="157.35" r="0.65" fill="#c4c4c4"/>
<circle cx="139.80" cy="157.35" r="3.30" fill="#c8192f"/>
<circle cx="150.82" cy="157.35" r="2.80" fill="#c8192f"/>
<circle cx="161.85" cy="157.35" r="0.65" fill="#c4c4c4"/>
<circle cx="172.88" cy="157.35" r="0.65" fill="#c4c4c4"/>
<circle cx="183.90" cy="157.35" r="0.65" fill="#c4c4c4"/>
<circle cx="194.93" cy="157.35" r="0.65" fill="#c4c4c4"/>
<circle cx="205.95" cy="157.35" r="0.65" fill="#c4c4c4"/>
<circle cx="216.98" cy="157.35" r="0.65" fill="#c4c4c4"/>
<circle cx="228.00" cy="157.35" r="0.65" fill="#c4c4c4"/>
<circle cx="239.03" cy="157.35" r="0.65" fill="#c4c4c4"/>
<circle cx="250.05" cy="157.35" r="0.65" fill="#c4c4c4"/>
<circle cx="261.07" cy="157.35" r="0.65" fill="#c4c4c4"/>
<circle cx="272.10" cy="157.35" r="0.65" fill="#c4c4c4"/>
<circle cx="283.12" cy="157.35" r="0.65" fill="#c4c4c4"/>
<circle cx="294.15" cy="157.35" r="0.65" fill="#c4c4c4"/>
<circle cx="305.18" cy="157.35" r="0.65" fill="#c4c4c4"/>
<circle cx="316.20" cy="157.35" r="0.65" fill="#c4c4c4"/>
<circle cx="327.23" cy="157.35" r="0.65" fill="#c4c4c4"/>
<circle cx="338.25" cy="157.35" r="0.65" fill="#c4c4c4"/>
<circle cx="349.28" cy="157.35" r="0.65" fill="#c4c4c4"/>
<circle cx="360.30" cy="157.35" r="0.65" fill="#c4c4c4"/>
<circle cx="371.32" cy="157.35" r="0.65" fill="#c4c4c4"/>
<circle cx="382.35" cy="157.35" r="0.65" fill="#c4c4c4"/>
<circle cx="393.38" cy="157.35" r="0.65" fill="#c4c4c4"/>
<circle cx="404.40" cy="157.35" r="0.65" fill="#c4c4c4"/>
<circle cx="415.43" cy="157.35" r="0.65" fill="#c4c4c4"/>
<circle cx="95.70" cy="167.85" r="2.20" fill="#bfbfbf"/>
<circle cx="106.73" cy="167.85" r="0.70" fill="#c8c8c8"/>
<circle cx="117.75" cy="167.85" r="3.00" fill="#c8192f"/>
<circle cx="128.78" cy="167.85" r="2.80" fill="#c8192f"/>
<circle cx="139.80" cy="167.85" r="2.30" fill="#bfbfbf"/>
<circle cx="150.82" cy="167.85" r="0.80" fill="#c8c8c8"/>
<circle cx="161.85" cy="167.85" r="0.65" fill="#c4c4c4"/>
<circle cx="172.88" cy="167.85" r="0.65" fill="#c4c4c4"/>
<circle cx="183.90" cy="167.85" r="0.65" fill="#c4c4c4"/>
<circle cx="194.93" cy="167.85" r="0.65" fill="#c4c4c4"/>
<circle cx="205.95" cy="167.85" r="0.65" fill="#c4c4c4"/>
<circle cx="216.98" cy="167.85" r="0.65" fill="#c4c4c4"/>
<circle cx="228.00" cy="167.85" r="0.65" fill="#c4c4c4"/>
<circle cx="239.03" cy="167.85" r="0.65" fill="#c4c4c4"/>
<circle cx="250.05" cy="167.85" r="0.65" fill="#c4c4c4"/>
<circle cx="261.07" cy="167.85" r="0.65" fill="#c4c4c4"/>
<circle cx="272.10" cy="167.85" r="0.65" fill="#c4c4c4"/>
<circle cx="283.12" cy="167.85" r="0.65" fill="#c4c4c4"/>
<circle cx="294.15" cy="167.85" r="0.65" fill="#c4c4c4"/>
<circle cx="305.18" cy="167.85" r="0.65" fill="#c4c4c4"/>
<circle cx="316.20" cy="167.85" r="0.65" fill="#c4c4c4"/>
<circle cx="327.23" cy="167.85" r="0.65" fill="#c4c4c4"/>
<circle cx="338.25" cy="167.85" r="0.65" fill="#c4c4c4"/>
<circle cx="349.28" cy="167.85" r="0.65" fill="#c4c4c4"/>
<circle cx="360.30" cy="167.85" r="0.65" fill="#c4c4c4"/>
<circle cx="371.32" cy="167.85" r="0.65" fill="#c4c4c4"/>
<circle cx="382.35" cy="167.85" r="0.65" fill="#c4c4c4"/>
<circle cx="393.38" cy="167.85" r="0.65" fill="#c4c4c4"/>
<circle cx="404.40" cy="167.85" r="0.65" fill="#c4c4c4"/>
<circle cx="415.43" cy="167.85" r="0.65" fill="#c4c4c4"/>
<circle cx="95.70" cy="178.35" r="1.90" fill="#bfbfbf"/>
<circle cx="106.73" cy="178.35" r="1.00" fill="#d04848"/>
<circle cx="117.75" cy="178.35" r="0.65" fill="#c4c4c4"/>
<circle cx="128.78" cy="178.35" r="0.90" fill="#d04848"/>
<circle cx="139.80" cy="178.35" r="2.30" fill="#bfbfbf"/>
<circle cx="150.82" cy="178.35" r="0.80" fill="#c8c8c8"/>
<circle cx="161.85" cy="178.35" r="0.65" fill="#c4c4c4"/>
<circle cx="172.88" cy="178.35" r="0.65" fill="#c4c4c4"/>
<circle cx="183.90" cy="178.35" r="0.65" fill="#c4c4c4"/>
<circle cx="194.93" cy="178.35" r="0.65" fill="#c4c4c4"/>
<circle cx="205.95" cy="178.35" r="0.65" fill="#c4c4c4"/>
<circle cx="216.98" cy="178.35" r="0.65" fill="#c4c4c4"/>
<circle cx="228.00" cy="178.35" r="0.65" fill="#c4c4c4"/>
<circle cx="239.03" cy="178.35" r="0.65" fill="#c4c4c4"/>
<circle cx="250.05" cy="178.35" r="0.65" fill="#c4c4c4"/>
<circle cx="261.07" cy="178.35" r="0.65" fill="#c4c4c4"/>
<circle cx="272.10" cy="178.35" r="0.65" fill="#c4c4c4"/>
<circle cx="283.12" cy="178.35" r="0.65" fill="#c4c4c4"/>
<circle cx="294.15" cy="178.35" r="0.65" fill="#c4c4c4"/>
<circle cx="305.18" cy="178.35" r="0.65" fill="#c4c4c4"/>
<circle cx="316.20" cy="178.35" r="0.65" fill="#c4c4c4"/>
<circle cx="327.23" cy="178.35" r="0.65" fill="#c4c4c4"/>
<circle cx="338.25" cy="178.35" r="0.65" fill="#c4c4c4"/>
<circle cx="349.28" cy="178.35" r="0.65" fill="#c4c4c4"/>
<circle cx="360.30" cy="178.35" r="0.65" fill="#c4c4c4"/>
<circle cx="371.32" cy="178.35" r="0.65" fill="#c4c4c4"/>
<circle cx="382.35" cy="178.35" r="0.65" fill="#c4c4c4"/>
<circle cx="393.38" cy="178.35" r="0.65" fill="#c4c4c4"/>
<circle cx="404.40" cy="178.35" r="0.65" fill="#c4c4c4"/>
<circle cx="415.43" cy="178.35" r="0.65" fill="#c4c4c4"/>
<circle cx="95.70" cy="188.85" r="1.90" fill="#bfbfbf"/>
<circle cx="106.73" cy="188.85" r="0.90" fill="#d08080"/>
<circle cx="117.75" cy="188.85" r="0.70" fill="#d09090"/>
<circle cx="128.78" cy="188.85" r="0.90" fill="#d08080"/>
<circle cx="139.80" cy="188.85" r="2.30" fill="#bfbfbf"/>
<circle cx="150.82" cy="188.85" r="0.80" fill="#c8c8c8"/>
<circle cx="161.85" cy="188.85" r="0.65" fill="#c4c4c4"/>
<circle cx="172.88" cy="188.85" r="0.65" fill="#c4c4c4"/>
<circle cx="183.90" cy="188.85" r="0.65" fill="#c4c4c4"/>
<circle cx="194.93" cy="188.85" r="0.65" fill="#c4c4c4"/>
<circle cx="205.95" cy="188.85" r="0.65" fill="#c4c4c4"/>
<circle cx="216.98" cy="188.85" r="0.65" fill="#c4c4c4"/>
<circle cx="228.00" cy="188.85" r="0.65" fill="#c4c4c4"/>
<circle cx="239.03" cy="188.85" r="0.65" fill="#c4c4c4"/>
<circle cx="250.05" cy="188.85" r="0.65" fill="#c4c4c4"/>
<circle cx="261.07" cy="188.85" r="0.65" fill="#c4c4c4"/>
<circle cx="272.10" cy="188.85" r="0.65" fill="#c4c4c4"/>
<circle cx="283.12" cy="188.85" r="0.65" fill="#c4c4c4"/>
<circle cx="294.15" cy="188.85" r="0.65" fill="#c4c4c4"/>
<circle cx="305.18" cy="188.85" r="0.65" fill="#c4c4c4"/>
<circle cx="316.20" cy="188.85" r="0.65" fill="#c4c4c4"/>
<circle cx="327.23" cy="188.85" r="0.65" fill="#c4c4c4"/>
<circle cx="338.25" cy="188.85" r="0.65" fill="#c4c4c4"/>
<circle cx="349.28" cy="188.85" r="0.65" fill="#c4c4c4"/>
<circle cx="360.30" cy="188.85" r="0.65" fill="#c4c4c4"/>
<circle cx="371.32" cy="188.85" r="0.65" fill="#c4c4c4"/>
<circle cx="382.35" cy="188.85" r="0.65" fill="#c4c4c4"/>
<circle cx="393.38" cy="188.85" r="0.65" fill="#c4c4c4"/>
<circle cx="404.40" cy="188.85" r="0.65" fill="#c4c4c4"/>
<circle cx="415.43" cy="188.85" r="0.65" fill="#c4c4c4"/>
<text x="307.70" y="8.80" font-size="8.2" text-anchor="middle" fill="#333" font-weight="normal" textLength="47" lengthAdjust="spacingAndGlyphs">Expressed (%)</text>
<circle cx="280.50" cy="16.60" r="0.65" fill="#111"/>
<text x="283.50" y="19.30" font-size="7.2" text-anchor="start" fill="#333" font-weight="normal">0</text>
<circle cx="293.10" cy="16.60" r="1.20" fill="#111"/>
<text x="297.20" y="19.30" font-size="7.92" text-anchor="start" fill="#333" font-weight="normal" textLength="8.01" lengthAdjust="spacingAndGlyphs">25</text>
<circle cx="310.30" cy="16.60" r="2.50" fill="#111"/>
<text x="315.80" y="19.30" font-size="7.92" text-anchor="start" fill="#333" font-weight="normal" textLength="8.01" lengthAdjust="spacingAndGlyphs">50</text>
<circle cx="330.30" cy="16.60" r="3.60" fill="#111"/>
<text x="336.60" y="19.30" font-size="7.92" text-anchor="start" fill="#333" font-weight="normal" textLength="8.01" lengthAdjust="spacingAndGlyphs">75</text>
<text x="385.50" y="8.80" font-size="8.2" text-anchor="middle" fill="#333" font-weight="normal" textLength="67.03" lengthAdjust="spacingAndGlyphs">Average expression</text>
<defs><linearGradient id="ga" x1="0" x2="1" y1="0" y2="0"><stop offset="0" stop-color="#c9c9c9"/><stop offset="0.12" stop-color="#c9c9c9"/><stop offset="0.5" stop-color="#d49a9c"/><stop offset="0.88" stop-color="#cc2838"/><stop offset="1" stop-color="#c81d30"/></linearGradient><linearGradient id="gc" x1="0" x2="1" y1="0" y2="0"><stop offset="0" stop-color="#d73027"/><stop offset="0.25" stop-color="#fc8d59"/><stop offset="0.5" stop-color="#ffffbf"/><stop offset="0.75" stop-color="#91bfdb"/><stop offset="1" stop-color="#4575b4"/></linearGradient><linearGradient id="gb" x1="0" x2="0" y1="0" y2="1"><stop offset="0" stop-color="#d73027"/><stop offset="0.2" stop-color="#f67a4a"/><stop offset="0.33" stop-color="#fdb56a"/><stop offset="0.45" stop-color="#fff5a8"/><stop offset="0.58" stop-color="#eef6f0"/><stop offset="0.75" stop-color="#b0d4e6"/><stop offset="1" stop-color="#3d6eb0"/></linearGradient><linearGradient id="gd" x1="0" x2="1" y1="0" y2="1" gradientUnits="objectBoundingBox"><stop offset="0" stop-color="#fc6414"/><stop offset="0.5" stop-color="#f4f4f4"/><stop offset="1" stop-color="#1f4f99"/></linearGradient></defs>
<rect x="361.00" y="13.10" width="37.80" height="5.50" fill="url(#ga)"/>
<line x1="372.50" y1="13.10" x2="372.50" y2="14.20" stroke="#fff" stroke-width="0.6"/>
<line x1="372.50" y1="17.50" x2="372.50" y2="18.60" stroke="#fff" stroke-width="0.6"/>
<line x1="382.80" y1="13.10" x2="382.80" y2="14.20" stroke="#fff" stroke-width="0.6"/>
<line x1="382.80" y1="17.50" x2="382.80" y2="18.60" stroke="#fff" stroke-width="0.6"/>
<line x1="393.30" y1="13.10" x2="393.30" y2="14.20" stroke="#fff" stroke-width="0.6"/>
<line x1="393.30" y1="17.50" x2="393.30" y2="18.60" stroke="#fff" stroke-width="0.6"/>
<text x="362.40" y="25.80" font-size="7.92" text-anchor="middle" fill="#333" font-weight="normal" textLength="6.40" lengthAdjust="spacingAndGlyphs">-1</text>
<text x="372.50" y="25.80" font-size="7.2" text-anchor="middle" fill="#333" font-weight="normal">0</text>
<text x="382.80" y="25.80" font-size="7.2" text-anchor="middle" fill="#333" font-weight="normal">1</text>
<text x="393.30" y="25.80" font-size="7.2" text-anchor="middle" fill="#333" font-weight="normal">2</text>
<text x="448.00" y="10.50" font-size="12.5" text-anchor="start" fill="#000" font-weight="bold" stroke="#000" stroke-width="0.35">c</text>
<text x="561.30" y="18.30" font-size="8.2" text-anchor="middle" fill="#333" font-weight="normal" textLength="24.92" lengthAdjust="spacingAndGlyphs">z-score</text>
<rect x="525.30" y="30.20" width="68.90" height="4.80" fill="url(#gc)"/>
<text x="528.20" y="27.90" font-size="7.2" text-anchor="middle" fill="#333" font-weight="normal">3</text>
<text x="561.30" y="27.90" font-size="7.2" text-anchor="middle" fill="#333" font-weight="normal">0</text>
<text x="591.20" y="27.90" font-size="7.92" text-anchor="middle" fill="#333" font-weight="normal" textLength="6.40" lengthAdjust="spacingAndGlyphs">-3</text>
<rect x="447.50" y="24.00" width="39.20" height="9.40" fill="#000"/>
<text x="467.10" y="32.20" font-size="9.2" text-anchor="middle" fill="#fff" font-weight="normal">InterPro</text>
<rect x="447.30" y="37.80" width="11.60" height="11.29" fill="#f5f8cf"/>
<rect x="457.90" y="37.80" width="10.79" height="11.29" fill="#eef4d8"/>
<rect x="467.69" y="37.80" width="10.79" height="11.29" fill="#eef4d8"/>
<rect x="477.48" y="37.80" width="10.79" height="11.29" fill="#fde6a2"/>
<rect x="487.27" y="37.80" width="10.79" height="11.29" fill="#eef4d8"/>
<rect x="497.06" y="37.80" width="10.79" height="11.29" fill="#eef4d8"/>
<rect x="506.85" y="37.80" width="10.79" height="11.29" fill="#fde8a8"/>
<rect x="516.64" y="37.80" width="10.79" height="11.29" fill="#eef4d8"/>
<rect x="526.43" y="37.80" width="10.79" height="11.29" fill="#eef4d8"/>
<rect x="536.22" y="37.80" width="10.79" height="11.29" fill="#eef4d8"/>
<rect x="546.01" y="37.80" width="10.79" height="11.29" fill="#eef4d8"/>
<rect x="555.80" y="37.80" width="10.79" height="11.29" fill="#eef4d8"/>
<rect x="565.59" y="37.80" width="10.79" height="11.29" fill="#eef4d8"/>
<rect x="575.38" y="37.80" width="10.79" height="11.29" fill="#fc8a55"/>
<rect x="585.17" y="37.80" width="9.83" height="11.29" fill="#fc8a55"/>
<rect x="447.30" y="48.09" width="11.60" height="11.29" fill="#f5f8cf"/>
<rect x="457.90" y="48.09" width="10.79" height="11.29" fill="#f5f8cf"/>
<rect x="467.69" y="48.09" width="10.79" height="11.29" fill="#f5f8cf"/>
<rect x="477.48" y="48.09" width="10.79" height="11.29" fill="#f5f8cf"/>
<rect x="487.27" y="48.09" width="10.79" height="11.29" fill="#f5f8cf"/>
<rect x="497.06" y="48.09" width="10.79" height="11.29" fill="#f5f8cf"/>
<rect x="506.85" y="48.09" width="10.79" height="11.29" fill="#f5f8cf"/>
<rect x="516.64" y="48.09" width="10.79" height="11.29" fill="#f5f8cf"/>
<rect x="526.43" y="48.09" width="10.79" height="11.29" fill="#f5f8cf"/>
<rect x="536.22" y="48.09" width="10.79" height="11.29" fill="#f5f8cf"/>
<rect x="546.01" y="48.09" width="10.79" height="11.29" fill="#f5f8cf"/>
<rect x="555.80" y="48.09" width="10.79" height="11.29" fill="#f5f8cf"/>
<rect x="565.59" y="48.09" width="10.79" height="11.29" fill="#f5f8cf"/>
<rect x="575.38" y="48.09" width="10.79" height="11.29" fill="#d8302a"/>
<rect x="585.17" y="48.09" width="9.83" height="11.29" fill="#feeaa6"/>
<rect x="447.30" y="58.38" width="11.60" height="11.29" fill="#f5f8cf"/>
<rect x="457.90" y="58.38" width="10.79" height="11.29" fill="#f5f8cf"/>
<rect x="467.69" y="58.38" width="10.79" height="11.29" fill="#fdfdc0"/>
<rect x="477.48" y="58.38" width="10.79" height="11.29" fill="#f5f8cf"/>
<rect x="487.27" y="58.38" width="10.79" height="11.29" fill="#f5f8cf"/>
<rect x="497.06" y="58.38" width="10.79" height="11.29" fill="#f5f8cf"/>
<rect x="506.85" y="58.38" width="10.79" height="11.29" fill="#f5f8cf"/>
<rect x="516.64" y="58.38" width="10.79" height="11.29" fill="#f5f8cf"/>
<rect x="526.43" y="58.38" width="10.79" height="11.29" fill="#f5f8cf"/>
<rect x="536.22" y="58.38" width="10.79" height="11.29" fill="#f5f8cf"/>
<rect x="546.01" y="58.38" width="10.79" height="11.29" fill="#f5f8cf"/>
<rect x="555.80" y="58.38" width="10.79" height="11.29" fill="#f5f8cf"/>
<rect x="565.59" y="58.38" width="10.79" height="11.29" fill="#d8302a"/>
<rect x="575.38" y="58.38" width="10.79" height="11.29" fill="#f5f8cf"/>
<rect x="585.17" y="58.38" width="9.83" height="11.29" fill="#f5f8cf"/>
<rect x="447.30" y="68.67" width="11.60" height="11.29" fill="#e4f0e6"/>
<rect x="457.90" y="68.67" width="10.79" height="11.29" fill="#eef4d8"/>
<rect x="467.69" y="68.67" width="10.79" height="11.29" fill="#e8f2e0"/>
<rect x="477.48" y="68.67" width="10.79" height="11.29" fill="#fef5c0"/>
<rect x="487.27" y="68.67" width="10.79" height="11.29" fill="#fee39e"/>
<rect x="497.06" y="68.67" width="10.79" height="11.29" fill="#eef4dc"/>
<rect x="506.85" y="68.67" width="10.79" height="11.29" fill="#f5f8cf"/>
<rect x="516.64" y="68.67" width="10.79" height="11.29" fill="#eef4dc"/>
<rect x="526.43" y="68.67" width="10.79" height="11.29" fill="#fde9a8"/>
<rect x="536.22" y="68.67" width="10.79" height="11.29" fill="#fde9a8"/>
<rect x="546.01" y="68.67" width="10.79" height="11.29" fill="#fddd92"/>
<rect x="555.80" y="68.67" width="10.79" height="11.29" fill="#e95c3b"/>
<rect x="565.59" y="68.67" width="10.79" height="11.29" fill="#e6f2e4"/>
<rect x="575.38" y="68.67" width="10.79" height="11.29" fill="#f5f8cf"/>
<rect x="585.17" y="68.67" width="9.83" height="11.29" fill="#eef4d8"/>
<rect x="447.30" y="78.96" width="11.60" height="11.29" fill="#f5f8cf"/>
<rect x="457.90" y="78.96" width="10.79" height="11.29" fill="#fee49e"/>
<rect x="467.69" y="78.96" width="10.79" height="11.29" fill="#f5f8cf"/>
<rect x="477.48" y="78.96" width="10.79" height="11.29" fill="#f5f8cf"/>
<rect x="487.27" y="78.96" width="10.79" height="11.29" fill="#f5f8cf"/>
<rect x="497.06" y="78.96" width="10.79" height="11.29" fill="#f5f8cf"/>
<rect x="506.85" y="78.96" width="10.79" height="11.29" fill="#f5f8cf"/>
<rect x="516.64" y="78.96" width="10.79" height="11.29" fill="#f5f8cf"/>
<rect x="526.43" y="78.96" width="10.79" height="11.29" fill="#f5f8cf"/>
<rect x="536.22" y="78.96" width="10.79" height="11.29" fill="#fef8bb"/>
<rect x="546.01" y="78.96" width="10.79" height="11.29" fill="#d8302a"/>
<rect x="555.80" y="78.96" width="10.79" height="11.29" fill="#f5f8cf"/>
<rect x="565.59" y="78.96" width="10.79" height="11.29" fill="#f5f8cf"/>
<rect x="575.38" y="78.96" width="10.79" height="11.29" fill="#f5f8cf"/>
<rect x="585.17" y="78.96" width="9.83" height="11.29" fill="#f5f8cf"/>
<rect x="447.30" y="89.25" width="11.60" height="11.29" fill="#f5f8cf"/>
<rect x="457.90" y="89.25" width="10.79" height="11.29" fill="#f5f8cf"/>
<rect x="467.69" y="89.25" width="10.79" height="11.29" fill="#f5f8cf"/>
<rect x="477.48" y="89.25" width="10.79" height="11.29" fill="#f5f8cf"/>
<rect x="487.27" y="89.25" width="10.79" height="11.29" fill="#f5f8cf"/>
<rect x="497.06" y="89.25" width="10.79" height="11.29" fill="#f5f8cf"/>
<rect x="506.85" y="89.25" width="10.79" height="11.29" fill="#f5f8cf"/>
<rect x="516.64" y="89.25" width="10.79" height="11.29" fill="#f5f8cf"/>
<rect x="526.43" y="89.25" width="10.79" height="11.29" fill="#f5f8cf"/>
<rect x="536.22" y="89.25" width="10.79" height="11.29" fill="#d8302a"/>
<rect x="546.01" y="89.25" width="10.79" height="11.29" fill="#f5f8cf"/>
<rect x="555.80" y="89.25" width="10.79" height="11.29" fill="#f5f8cf"/>
<rect x="565.59" y="89.25" width="10.79" height="11.29" fill="#f5f8cf"/>
<rect x="575.38" y="89.25" width="10.79" height="11.29" fill="#f5f8cf"/>
<rect x="585.17" y="89.25" width="9.83" height="11.29" fill="#f5f8cf"/>
<rect x="447.30" y="99.54" width="11.60" height="11.29" fill="#fee39e"/>
<rect x="457.90" y="99.54" width="10.79" height="11.29" fill="#eef4d8"/>
<rect x="467.69" y="99.54" width="10.79" height="11.29" fill="#eef4d8"/>
<rect x="477.48" y="99.54" width="10.79" height="11.29" fill="#eef4d8"/>
<rect x="487.27" y="99.54" width="10.79" height="11.29" fill="#eef4d8"/>
<rect x="497.06" y="99.54" width="10.79" height="11.29" fill="#eef4d8"/>
<rect x="506.85" y="99.54" width="10.79" height="11.29" fill="#eef4d8"/>
<rect x="516.64" y="99.54" width="10.79" height="11.29" fill="#eef4d8"/>
<rect x="526.43" y="99.54" width="10.79" height="11.29" fill="#ec6340"/>
<rect x="536.22" y="99.54" width="10.79" height="11.29" fill="#fee6a0"/>
<rect x="546.01" y="99.54" width="10.79" height="11.29" fill="#eef4d8"/>
<rect x="555.80" y="99.54" width="10.79" height="11.29" fill="#eef4d8"/>
<rect x="565.59" y="99.54" width="10.79" height="11.29" fill="#fdbe7c"/>
<rect x="575.38" y="99.54" width="10.79" height="11.29" fill="#eef4d8"/>
<rect x="585.17" y="99.54" width="9.83" height="11.29" fill="#eef4d8"/>
<rect x="447.30" y="109.83" width="11.60" height="11.29" fill="#f5f8cf"/>
<rect x="457.90" y="109.83" width="10.79" height="11.29" fill="#fbf9c4"/>
<rect x="467.69" y="109.83" width="10.79" height="11.29" fill="#fbf9c4"/>
<rect x="477.48" y="109.83" width="10.79" height="11.29" fill="#eef4dc"/>
<rect x="487.27" y="109.83" width="10.79" height="11.29" fill="#eef4dc"/>
<rect x="497.06" y="109.83" width="10.79" height="11.29" fill="#f5f8cf"/>
<rect x="506.85" y="109.83" width="10.79" height="11.29" fill="#e4f1e8"/>
<rect x="516.64" y="109.83" width="10.79" height="11.29" fill="#ec6a45"/>
<rect x="526.43" y="109.83" width="10.79" height="11.29" fill="#fbf9c4"/>
<rect x="536.22" y="109.83" width="10.79" height="11.29" fill="#e2f0e8"/>
<rect x="546.01" y="109.83" width="10.79" height="11.29" fill="#f5f8cf"/>
<rect x="555.80" y="109.83" width="10.79" height="11.29" fill="#fdf3b6"/>
<rect x="565.59" y="109.83" width="10.79" height="11.29" fill="#eef4dc"/>
<rect x="575.38" y="109.83" width="10.79" height="11.29" fill="#fdd38c"/>
<rect x="585.17" y="109.83" width="9.83" height="11.29" fill="#fede95"/>
<rect x="447.30" y="120.12" width="11.60" height="11.29" fill="#f5f8cf"/>
<rect x="457.90" y="120.12" width="10.79" height="11.29" fill="#f5f8cf"/>
<rect x="467.69" y="120.12" width="10.79" height="11.29" fill="#f5f8cf"/>
<rect x="477.48" y="120.12" width="10.79" height="11.29" fill="#fbf9c8"/>
<rect x="487.27" y="120.12" width="10.79" height="11.29" fill="#f5f8cf"/>
<rect x="497.06" y="120.12" width="10.79" height="11.29" fill="#f5f8cf"/>
<rect x="506.85" y="120.12" width="10.79" height="11.29" fill="#ee6a45"/>
<rect x="516.64" y="120.12" width="10.79" height="11.29" fill="#f5f8cf"/>
<rect x="526.43" y="120.12" width="10.79" height="11.29" fill="#f5f8cf"/>
<rect x="536.22" y="120.12" width="10.79" height="11.29" fill="#f5f8cf"/>
<rect x="546.01" y="120.12" width="10.79" height="11.29" fill="#f5f8cf"/>
<rect x="555.80" y="120.12" width="10.79" height="11.29" fill="#f5f8cf"/>
<rect x="565.59" y="120.12" width="10.79" height="11.29" fill="#f5f8cf"/>
<rect x="575.38" y="120.12" width="10.79" height="11.29" fill="#f5f8cf"/>
<rect x="585.17" y="120.12" width="9.83" height="11.29" fill="#fb9858"/>
<rect x="447.30" y="130.41" width="11.60" height="11.29" fill="#f5f8cf"/>
<rect x="457.90" y="130.41" width="10.79" height="11.29" fill="#f5f8cf"/>
<rect x="467.69" y="130.41" width="10.79" height="11.29" fill="#f5f8cf"/>
<rect x="477.48" y="130.41" width="10.79" height="11.29" fill="#f5f8cf"/>
<rect x="487.27" y="130.41" width="10.79" height="11.29" fill="#f5f8cf"/>
<rect x="497.06" y="130.41" width="10.79" height="11.29" fill="#d7302a"/>
<rect x="506.85" y="130.41" width="10.79" height="11.29" fill="#f5f8cf"/>
<rect x="516.64" y="130.41" width="10.79" height="11.29" fill="#f5f8cf"/>
<rect x="526.43" y="130.41" width="10.79" height="11.29" fill="#f5f8cf"/>
<rect x="536.22" y="130.41" width="10.79" height="11.29" fill="#f5f8cf"/>
<rect x="546.01" y="130.41" width="10.79" height="11.29" fill="#f5f8cf"/>
<rect x="555.80" y="130.41" width="10.79" height="11.29" fill="#f5f8cf"/>
<rect x="565.59" y="130.41" width="10.79" height="11.29" fill="#f5f8cf"/>
<rect x="575.38" y="130.41" width="10.79" height="11.29" fill="#f5f8cf"/>
<rect x="585.17" y="130.41" width="9.83" height="11.29" fill="#f5f8cf"/>
<rect x="447.30" y="140.70" width="11.60" height="11.29" fill="#f5f8cf"/>
<rect x="457.90" y="140.70" width="10.79" height="11.29" fill="#f5f8cf"/>
<rect x="467.69" y="140.70" width="10.79" height="11.29" fill="#f5f8cf"/>
<rect x="477.48" y="140.70" width="10.79" height="11.29" fill="#f5f8cf"/>
<rect x="487.27" y="140.70" width="10.79" height="11.29" fill="#d7302a"/>
<rect x="497.06" y="140.70" width="10.79" height="11.29" fill="#f5f8cf"/>
<rect x="506.85" y="140.70" width="10.79" height="11.29" fill="#f5f8cf"/>
<rect x="516.64" y="140.70" width="10.79" height="11.29" fill="#f5f8cf"/>
<rect x="526.43" y="140.70" width="10.79" height="11.29" fill="#f5f8cf"/>
<rect x="536.22" y="140.70" width="10.79" height="11.29" fill="#f5f8cf"/>
<rect x="546.01" y="140.70" width="10.79" height="11.29" fill="#f5f8cf"/>
<rect x="555.80" y="140.70" width="10.79" height="11.29" fill="#f5f8cf"/>
<rect x="565.59" y="140.70" width="10.79" height="11.29" fill="#f5f8cf"/>
<rect x="575.38" y="140.70" width="10.79" height="11.29" fill="#f5f8cf"/>
<rect x="585.17" y="140.70" width="9.83" height="11.29" fill="#f5f8cf"/>
<rect x="447.30" y="150.99" width="11.60" height="11.29" fill="#eef4d8"/>
<rect x="457.90" y="150.99" width="10.79" height="11.29" fill="#fee8a6"/>
<rect x="467.69" y="150.99" width="10.79" height="11.29" fill="#eef4d8"/>
<rect x="477.48" y="150.99" width="10.79" height="11.29" fill="#f07848"/>
<rect x="487.27" y="150.99" width="10.79" height="11.29" fill="#fba86a"/>
<rect x="497.06" y="150.99" width="10.79" height="11.29" fill="#eef4d8"/>
<rect x="506.85" y="150.99" width="10.79" height="11.29" fill="#eef4d8"/>
<rect x="516.64" y="150.99" width="10.79" height="11.29" fill="#eef4d8"/>
<rect x="526.43" y="150.99" width="10.79" height="11.29" fill="#eef4d8"/>
<rect x="536.22" y="150.99" width="10.79" height="11.29" fill="#eef4d8"/>
<rect x="546.01" y="150.99" width="10.79" height="11.29" fill="#fedf96"/>
<rect x="555.80" y="150.99" width="10.79" height="11.29" fill="#eef4d8"/>
<rect x="565.59" y="150.99" width="10.79" height="11.29" fill="#eef4d8"/>
<rect x="575.38" y="150.99" width="10.79" height="11.29" fill="#eef4d8"/>
<rect x="585.17" y="150.99" width="9.83" height="11.29" fill="#eef4d8"/>
<rect x="447.30" y="161.28" width="11.60" height="11.29" fill="#eef4d8"/>
<rect x="457.90" y="161.28" width="10.79" height="11.29" fill="#eef4d8"/>
<rect x="467.69" y="161.28" width="10.79" height="11.29" fill="#fcb577"/>
<rect x="477.48" y="161.28" width="10.79" height="11.29" fill="#eef4d8"/>
<rect x="487.27" y="161.28" width="10.79" height="11.29" fill="#fed890"/>
<rect x="497.06" y="161.28" width="10.79" height="11.29" fill="#fef0b0"/>
<rect x="506.85" y="161.28" width="10.79" height="11.29" fill="#eef4d8"/>
<rect x="516.64" y="161.28" width="10.79" height="11.29" fill="#eef4d8"/>
<rect x="526.43" y="161.28" width="10.79" height="11.29" fill="#eef4d8"/>
<rect x="536.22" y="161.28" width="10.79" height="11.29" fill="#fbf9c4"/>
<rect x="546.01" y="161.28" width="10.79" height="11.29" fill="#fed48c"/>
<rect x="555.80" y="161.28" width="10.79" height="11.29" fill="#f98a52"/>
<rect x="565.59" y="161.28" width="10.79" height="11.29" fill="#eef4d8"/>
<rect x="575.38" y="161.28" width="10.79" height="11.29" fill="#eef4d8"/>
<rect x="585.17" y="161.28" width="9.83" height="11.29" fill="#eef4d8"/>
<rect x="447.30" y="171.57" width="11.60" height="11.29" fill="#fee39c"/>
<rect x="457.90" y="171.57" width="10.79" height="11.29" fill="#fca86a"/>
<rect x="467.69" y="171.57" width="10.79" height="11.29" fill="#e6f2e2"/>
<rect x="477.48" y="171.57" width="10.79" height="11.29" fill="#f5f8cf"/>
<rect x="487.27" y="171.57" width="10.79" height="11.29" fill="#fcfbc4"/>
<rect x="497.06" y="171.57" width="10.79" height="11.29" fill="#feeaa8"/>
<rect x="506.85" y="171.57" width="10.79" height="11.29" fill="#f5f8cf"/>
<rect x="516.64" y="171.57" width="10.79" height="11.29" fill="#d0e4ec"/>
<rect x="526.43" y="171.57" width="10.79" height="11.29" fill="#fdf6b8"/>
<rect x="536.22" y="171.57" width="10.79" height="11.29" fill="#fee6a0"/>
<rect x="546.01" y="171.57" width="10.79" height="11.29" fill="#fcb175"/>
<rect x="555.80" y="171.57" width="10.79" height="11.29" fill="#f5f8cf"/>
<rect x="565.59" y="171.57" width="10.79" height="11.29" fill="#fedb92"/>
<rect x="575.38" y="171.57" width="10.79" height="11.29" fill="#cde0ea"/>
<rect x="585.17" y="171.57" width="9.83" height="11.29" fill="#e2f0ea"/>
<rect x="447.30" y="181.86" width="11.60" height="10.29" fill="#ec643f"/>
<rect x="457.90" y="181.86" width="10.79" height="10.29" fill="#fdcf85"/>
<rect x="467.69" y="181.86" width="10.79" height="10.29" fill="#fee8a6"/>
<rect x="477.48" y="181.86" width="10.79" height="10.29" fill="#eef4d8"/>
<rect x="487.27" y="181.86" width="10.79" height="10.29" fill="#eef4d8"/>
<rect x="497.06" y="181.86" width="10.79" height="10.29" fill="#eef4d8"/>
<rect x="506.85" y="181.86" width="10.79" height="10.29" fill="#eef4d8"/>
<rect x="516.64" y="181.86" width="10.79" height="10.29" fill="#eef4d8"/>
<rect x="526.43" y="181.86" width="10.79" height="10.29" fill="#fcf8c0"/>
<rect x="536.22" y="181.86" width="10.79" height="10.29" fill="#eef4d8"/>
<rect x="546.01" y="181.86" width="10.79" height="10.29" fill="#eef4d8"/>
<rect x="555.80" y="181.86" width="10.79" height="10.29" fill="#eef4d8"/>
<rect x="565.59" y="181.86" width="10.79" height="10.29" fill="#fedb92"/>
<rect x="575.38" y="181.86" width="10.79" height="10.29" fill="#eef4d8"/>
<rect x="585.17" y="181.86" width="9.83" height="10.29" fill="#eef4d8"/>
<text x="598.70" y="45.74" font-size="8.2" text-anchor="start" fill="#333" font-weight="normal" textLength="35.9" lengthAdjust="spacingAndGlyphs">Znf_CCHC</text>
<text x="598.70" y="56.03" font-size="8.2" text-anchor="start" fill="#333" font-weight="normal" textLength="60.7" lengthAdjust="spacingAndGlyphs">ThiF_NAD_FAD-bd</text>
<text x="598.70" y="66.32" font-size="8.2" text-anchor="start" fill="#333" font-weight="normal" textLength="88.3" lengthAdjust="spacingAndGlyphs">Myosin_head_motor_dom</text>
<text x="598.70" y="76.61" font-size="8.2" text-anchor="start" fill="#333" font-weight="normal" textLength="61.8" lengthAdjust="spacingAndGlyphs">Glyco_trans_2_like</text>
<text x="598.70" y="86.90" font-size="8.2" text-anchor="start" fill="#333" font-weight="normal" textLength="14.2" lengthAdjust="spacingAndGlyphs">SSD</text>
<text x="598.70" y="97.19" font-size="8.2" text-anchor="start" fill="#333" font-weight="normal" textLength="52.3" lengthAdjust="spacingAndGlyphs">AB_hydrolase_1</text>
<text x="598.70" y="107.48" font-size="8.2" text-anchor="start" fill="#333" font-weight="normal" textLength="59.1" lengthAdjust="spacingAndGlyphs">Neur_chan_lig-bd</text>
<text x="598.70" y="117.77" font-size="8.2" text-anchor="start" fill="#333" font-weight="normal" textLength="48.7" lengthAdjust="spacingAndGlyphs">Bromodomain</text>
<text x="598.70" y="128.06" font-size="8.2" text-anchor="start" fill="#333" font-weight="normal" textLength="51.6" lengthAdjust="spacingAndGlyphs">Histone_H2A_C</text>
<text x="598.70" y="138.36" font-size="8.2" text-anchor="start" fill="#333" font-weight="normal" textLength="37.9" lengthAdjust="spacingAndGlyphs">F-box_dom</text>
<text x="598.70" y="148.64" font-size="8.2" text-anchor="start" fill="#333" font-weight="normal" textLength="22.1" lengthAdjust="spacingAndGlyphs">CNNM</text>
<text x="598.70" y="158.94" font-size="8.2" text-anchor="start" fill="#333" font-weight="normal" textLength="48.7" lengthAdjust="spacingAndGlyphs">T_SNARE_dom</text>
<text x="598.70" y="169.23" font-size="8.2" text-anchor="start" fill="#333" font-weight="normal" textLength="15.8" lengthAdjust="spacingAndGlyphs">SAM</text>
<text x="598.70" y="179.51" font-size="8.2" text-anchor="start" fill="#333" font-weight="normal" textLength="50.1" lengthAdjust="spacingAndGlyphs">cNMP-bd_dom</text>
<text x="598.70" y="189.81" font-size="8.2" text-anchor="start" fill="#333" font-weight="normal" textLength="69.9" lengthAdjust="spacingAndGlyphs">GPCR_Rhodpsn_7TM</text>
<text x="455.30" y="196.00" font-size="8.2" text-anchor="end" fill="#333" font-weight="normal" transform="rotate(-90 455.3 196.0)" textLength="25.42" lengthAdjust="spacingAndGlyphs">Neuron</text>
<text x="465.49" y="196.00" font-size="8.2" text-anchor="end" fill="#333" font-weight="normal" transform="rotate(-90 465.49499999999995 196.0)" textLength="71.07" lengthAdjust="spacingAndGlyphs">DTC/excretory gland</text>
<text x="475.28" y="196.00" font-size="8.2" text-anchor="end" fill="#333" font-weight="normal" transform="rotate(-90 475.28499999999997 196.0)" textLength="28.43" lengthAdjust="spacingAndGlyphs">Pharynx</text>
<text x="485.07" y="196.00" font-size="8.2" text-anchor="end" fill="#333" font-weight="normal" transform="rotate(-90 485.075 196.0)" textLength="46.09" lengthAdjust="spacingAndGlyphs">Uterine seam</text>
<text x="494.86" y="196.00" font-size="8.2" text-anchor="end" fill="#333" font-weight="normal" transform="rotate(-90 494.86499999999995 196.0)" textLength="50.11" lengthAdjust="spacingAndGlyphs">Vulva &amp; uterus</text>
<text x="504.65" y="196.00" font-size="8.2" text-anchor="end" fill="#333" font-weight="normal" transform="rotate(-90 504.6549999999999 196.0)" textLength="29.30" lengthAdjust="spacingAndGlyphs">Intestine</text>
<text x="514.45" y="196.00" font-size="8.2" text-anchor="end" fill="#333" font-weight="normal" transform="rotate(-90 514.445 196.0)" textLength="46.10" lengthAdjust="spacingAndGlyphs">Spermatheca</text>
<text x="524.24" y="196.00" font-size="8.2" text-anchor="end" fill="#333" font-weight="normal" transform="rotate(-90 524.235 196.0)" textLength="36.61" lengthAdjust="spacingAndGlyphs">Embryonic</text>
<text x="534.03" y="196.00" font-size="8.2" text-anchor="end" fill="#333" font-weight="normal" transform="rotate(-90 534.0250000000001 196.0)" textLength="45.23" lengthAdjust="spacingAndGlyphs">Coelomocyte</text>
<text x="543.82" y="196.00" font-size="8.2" text-anchor="end" fill="#333" font-weight="normal" transform="rotate(-90 543.815 196.0)" textLength="41.35" lengthAdjust="spacingAndGlyphs">Hypodermis</text>
<text x="553.61" y="196.00" font-size="8.2" text-anchor="end" fill="#333" font-weight="normal" transform="rotate(-90 553.605 196.0)" textLength="54.72" lengthAdjust="spacingAndGlyphs">Gonadal sheath</text>
<text x="563.39" y="196.00" font-size="8.2" text-anchor="end" fill="#333" font-weight="normal" transform="rotate(-90 563.395 196.0)" textLength="13.78" lengthAdjust="spacingAndGlyphs">Glia</text>
<text x="573.18" y="196.00" font-size="8.2" text-anchor="end" fill="#333" font-weight="normal" transform="rotate(-90 573.185 196.0)" textLength="24.55" lengthAdjust="spacingAndGlyphs">Muscle</text>
<text x="582.98" y="196.00" font-size="8.2" text-anchor="end" fill="#333" font-weight="normal" transform="rotate(-90 582.975 196.0)" textLength="26.70" lengthAdjust="spacingAndGlyphs">Sperms</text>
<text x="592.79" y="196.00" font-size="8.2" text-anchor="end" fill="#333" font-weight="normal" transform="rotate(-90 592.7850000000001 196.0)" textLength="31.44" lengthAdjust="spacingAndGlyphs">Germline</text>
<text x="0.30" y="280.40" font-size="12.4" text-anchor="start" fill="#000" font-weight="bold" stroke="#000" stroke-width="0.35">b</text>
<rect x="55.70" y="270.00" width="38.30" height="9.20" fill="#000"/>
<text x="73.70" y="277.90" font-size="8.9" text-anchor="middle" fill="#fff" font-weight="normal">TF motif</text>
<text x="90.30" y="288.20" font-size="8.2" text-anchor="middle" fill="#333" font-weight="normal" textLength="53.65" lengthAdjust="spacingAndGlyphs">TF target genes</text>
<line x1="58.40" y1="292.00" x2="120.00" y2="292.00" stroke="#8a8a8a" stroke-width="1.2"/>
<text x="168.90" y="288.10" font-size="8.2" text-anchor="middle" fill="#333" font-weight="normal" textLength="9.28" lengthAdjust="spacingAndGlyphs">TF</text>
<line x1="137.00" y1="292.00" x2="198.70" y2="292.00" stroke="#8a8a8a" stroke-width="1.2"/>
<rect x="60.10" y="294.90" width="12.66" height="12.20" fill="#f99858"/>
<rect x="139.90" y="294.30" width="12.66" height="12.32" fill="#d83a2c"/>
<rect x="71.76" y="294.90" width="12.66" height="12.20" fill="#fef5b8"/>
<rect x="151.56" y="294.30" width="12.66" height="12.32" fill="#dcedf2"/>
<rect x="83.42" y="294.90" width="12.66" height="12.20" fill="#fdd28a"/>
<rect x="163.22" y="294.30" width="12.66" height="12.32" fill="#e2f0f0"/>
<rect x="95.08" y="294.90" width="12.66" height="12.20" fill="#5a8ac6"/>
<rect x="174.88" y="294.30" width="12.66" height="12.32" fill="#e2f0f0"/>
<rect x="106.74" y="294.90" width="11.66" height="12.20" fill="#f2f6d6"/>
<rect x="186.54" y="294.30" width="11.66" height="12.32" fill="#fdf6c0"/>
<rect x="60.10" y="306.10" width="12.66" height="12.20" fill="#fefcc0"/>
<rect x="139.90" y="305.62" width="12.66" height="12.32" fill="#d8eaf2"/>
<rect x="71.76" y="306.10" width="12.66" height="12.20" fill="#dc3a2a"/>
<rect x="151.56" y="305.62" width="12.66" height="12.32" fill="#ec6440"/>
<rect x="83.42" y="306.10" width="12.66" height="12.20" fill="#e8f2e4"/>
<rect x="163.22" y="305.62" width="12.66" height="12.32" fill="#fdca80"/>
<rect x="95.08" y="306.10" width="12.66" height="12.20" fill="#a8cde2"/>
<rect x="174.88" y="305.62" width="12.66" height="12.32" fill="#dcedf2"/>
<rect x="106.74" y="306.10" width="11.66" height="12.20" fill="#eef4d8"/>
<rect x="186.54" y="305.62" width="11.66" height="12.32" fill="#b4d4e6"/>
<rect x="60.10" y="317.30" width="12.66" height="12.20" fill="#fee3a0"/>
<rect x="139.90" y="316.94" width="12.66" height="12.32" fill="#ecf4dc"/>
<rect x="71.76" y="317.30" width="12.66" height="12.20" fill="#bcd9e8"/>
<rect x="151.56" y="316.94" width="12.66" height="12.32" fill="#e6f2e8"/>
<rect x="83.42" y="317.30" width="12.66" height="12.20" fill="#e8603e"/>
<rect x="163.22" y="316.94" width="12.66" height="12.32" fill="#d73027"/>
<rect x="95.08" y="317.30" width="12.66" height="12.20" fill="#9ec8e0"/>
<rect x="174.88" y="316.94" width="12.66" height="12.32" fill="#e6f2e8"/>
<rect x="106.74" y="317.30" width="11.66" height="12.20" fill="#fff8bc"/>
<rect x="186.54" y="316.94" width="11.66" height="12.32" fill="#e6f2e4"/>
<rect x="60.10" y="328.50" width="12.66" height="12.20" fill="#feeaa8"/>
<rect x="139.90" y="328.26" width="12.66" height="12.32" fill="#ecf4dc"/>
<rect x="71.76" y="328.50" width="12.66" height="12.20" fill="#e4f1ee"/>
<rect x="151.56" y="328.26" width="12.66" height="12.32" fill="#e4f1ea"/>
<rect x="83.42" y="328.50" width="12.66" height="12.20" fill="#e04c32"/>
<rect x="163.22" y="328.26" width="12.66" height="12.32" fill="#d73027"/>
<rect x="95.08" y="328.50" width="12.66" height="12.20" fill="#a8cde2"/>
<rect x="174.88" y="328.26" width="12.66" height="12.32" fill="#e6f2e8"/>
<rect x="106.74" y="328.50" width="11.66" height="12.20" fill="#eaf3e0"/>
<rect x="186.54" y="328.26" width="11.66" height="12.32" fill="#e8f2e2"/>
<rect x="60.10" y="339.70" width="12.66" height="12.20" fill="#eaf3e0"/>
<rect x="139.90" y="339.58" width="12.66" height="12.32" fill="#cbe3ee"/>
<rect x="71.76" y="339.70" width="12.66" height="12.20" fill="#f8f9cc"/>
<rect x="151.56" y="339.58" width="12.66" height="12.32" fill="#e2f0ee"/>
<rect x="83.42" y="339.70" width="12.66" height="12.20" fill="#d4e8f0"/>
<rect x="163.22" y="339.58" width="12.66" height="12.32" fill="#d4e8f0"/>
<rect x="95.08" y="339.70" width="12.66" height="12.20" fill="#d73027"/>
<rect x="174.88" y="339.58" width="12.66" height="12.32" fill="#df4630"/>
<rect x="106.74" y="339.70" width="11.66" height="12.20" fill="#dfeef2"/>
<rect x="186.54" y="339.58" width="11.66" height="12.32" fill="#fde8a6"/>
<rect x="60.10" y="350.90" width="12.66" height="12.20" fill="#f2f7d4"/>
<rect x="139.90" y="350.90" width="12.66" height="12.32" fill="#ddeef2"/>
<rect x="71.76" y="350.90" width="12.66" height="12.20" fill="#d8eaf2"/>
<rect x="151.56" y="350.90" width="12.66" height="12.32" fill="#cce3ee"/>
<rect x="83.42" y="350.90" width="12.66" height="12.20" fill="#d4e8f0"/>
<rect x="163.22" y="350.90" width="12.66" height="12.32" fill="#eef5da"/>
<rect x="95.08" y="350.90" width="12.66" height="12.20" fill="#d73027"/>
<rect x="174.88" y="350.90" width="12.66" height="12.32" fill="#d73027"/>
<rect x="106.74" y="350.90" width="11.66" height="12.20" fill="#eaf3e0"/>
<rect x="186.54" y="350.90" width="11.66" height="12.32" fill="#f8f9cc"/>
<rect x="60.10" y="362.10" width="12.66" height="12.20" fill="#cfe5ee"/>
<rect x="139.90" y="362.22" width="12.66" height="12.32" fill="#ddeef2"/>
<rect x="71.76" y="362.10" width="12.66" height="12.20" fill="#fdd590"/>
<rect x="151.56" y="362.22" width="12.66" height="12.32" fill="#d4e8f0"/>
<rect x="83.42" y="362.10" width="12.66" height="12.20" fill="#cfe4ee"/>
<rect x="163.22" y="362.22" width="12.66" height="12.32" fill="#eef5da"/>
<rect x="95.08" y="362.10" width="12.66" height="12.20" fill="#e24e34"/>
<rect x="174.88" y="362.22" width="12.66" height="12.32" fill="#d73027"/>
<rect x="106.74" y="362.10" width="11.66" height="12.20" fill="#dceef4"/>
<rect x="186.54" y="362.22" width="11.66" height="12.32" fill="#f8f9cc"/>
<rect x="60.10" y="373.30" width="12.66" height="11.20" fill="#5b8fc8"/>
<rect x="139.90" y="373.54" width="12.66" height="11.32" fill="#e2f0ee"/>
<rect x="71.76" y="373.30" width="12.66" height="11.20" fill="#fef3b6"/>
<rect x="151.56" y="373.54" width="12.66" height="11.32" fill="#eef5da"/>
<rect x="83.42" y="373.30" width="12.66" height="11.20" fill="#feeaa4"/>
<rect x="163.22" y="373.54" width="12.66" height="11.32" fill="#e4f1ea"/>
<rect x="95.08" y="373.30" width="12.66" height="11.20" fill="#eff5da"/>
<rect x="174.88" y="373.54" width="12.66" height="11.32" fill="#e6f2e8"/>
<rect x="106.74" y="373.30" width="11.66" height="11.20" fill="#ee6a45"/>
<rect x="186.54" y="373.54" width="11.66" height="11.32" fill="#d83a2c"/>
<text x="55.70" y="303.20" font-size="7.92" text-anchor="end" fill="#333" font-weight="normal" font-style="italic" textLength="21.81" lengthAdjust="spacingAndGlyphs">sma−4</text>
<text x="55.70" y="314.40" font-size="7.92" text-anchor="end" fill="#333" font-weight="normal" font-style="italic" textLength="22.22" lengthAdjust="spacingAndGlyphs">mab−3</text>
<text x="55.70" y="325.60" font-size="7.92" text-anchor="end" fill="#333" font-weight="normal" font-style="italic" textLength="23.82" lengthAdjust="spacingAndGlyphs">ceh−24</text>
<text x="55.70" y="336.80" font-size="7.92" text-anchor="end" fill="#333" font-weight="normal" font-style="italic" textLength="17.82" lengthAdjust="spacingAndGlyphs">hlh−1</text>
<text x="55.70" y="348.00" font-size="7.92" text-anchor="end" fill="#333" font-weight="normal" font-style="italic" textLength="15.81" lengthAdjust="spacingAndGlyphs">elt−1</text>
<text x="55.70" y="359.20" font-size="7.92" text-anchor="end" fill="#333" font-weight="normal" font-style="italic" textLength="26.22" lengthAdjust="spacingAndGlyphs">hmg−12</text>
<text x="55.70" y="370.40" font-size="7.92" text-anchor="end" fill="#333" font-weight="normal" font-style="italic" textLength="22.22" lengthAdjust="spacingAndGlyphs">athp−1</text>
<text x="55.70" y="381.60" font-size="7.92" text-anchor="end" fill="#333" font-weight="normal" font-style="italic" textLength="20.22" lengthAdjust="spacingAndGlyphs">pha−4</text>
<text x="68.43" y="388.60" font-size="8.2" text-anchor="end" fill="#333" font-weight="normal" transform="rotate(-90 68.43 388.6)" textLength="40.55" lengthAdjust="spacingAndGlyphs">Hypodermis</text>
<text x="148.23" y="388.60" font-size="8.2" text-anchor="end" fill="#333" font-weight="normal" transform="rotate(-90 148.23000000000002 388.6)" textLength="40.55" lengthAdjust="spacingAndGlyphs">Hypodermis</text>
<text x="80.09" y="388.60" font-size="8.2" text-anchor="end" fill="#333" font-weight="normal" transform="rotate(-90 80.09 388.6)" textLength="13.52" lengthAdjust="spacingAndGlyphs">Glia</text>
<text x="159.89" y="388.60" font-size="8.2" text-anchor="end" fill="#333" font-weight="normal" transform="rotate(-90 159.89000000000001 388.6)" textLength="13.52" lengthAdjust="spacingAndGlyphs">Glia</text>
<text x="91.75" y="388.60" font-size="8.2" text-anchor="end" fill="#333" font-weight="normal" transform="rotate(-90 91.75 388.6)" textLength="24.07" lengthAdjust="spacingAndGlyphs">Muscle</text>
<text x="171.55" y="388.60" font-size="8.2" text-anchor="end" fill="#333" font-weight="normal" transform="rotate(-90 171.55 388.6)" textLength="24.07" lengthAdjust="spacingAndGlyphs">Muscle</text>
<text x="103.41" y="388.60" font-size="8.2" text-anchor="end" fill="#333" font-weight="normal" transform="rotate(-90 103.41 388.6)" textLength="30.83" lengthAdjust="spacingAndGlyphs">Germline</text>
<text x="183.21" y="388.60" font-size="8.2" text-anchor="end" fill="#333" font-weight="normal" transform="rotate(-90 183.21 388.6)" textLength="30.83" lengthAdjust="spacingAndGlyphs">Germline</text>
<text x="115.07" y="388.60" font-size="8.2" text-anchor="end" fill="#333" font-weight="normal" transform="rotate(-90 115.07 388.6)" textLength="27.88" lengthAdjust="spacingAndGlyphs">Pharynx</text>
<text x="194.87" y="388.60" font-size="8.2" text-anchor="end" fill="#333" font-weight="normal" transform="rotate(-90 194.87 388.6)" textLength="27.88" lengthAdjust="spacingAndGlyphs">Pharynx</text>
<rect x="121.20" y="332.20" width="3.40" height="52.40" fill="url(#gb)"/>
<rect x="205.10" y="332.90" width="3.20" height="52.00" fill="url(#gb)"/>
<text x="127.30" y="346.30" font-size="7.0" text-anchor="start" fill="#333" font-weight="normal">1</text>
<text x="128.10" y="360.60" font-size="7.0" text-anchor="start" fill="#333" font-weight="normal">0</text>
<text x="126.80" y="375.00" font-size="7.7" text-anchor="start" fill="#333" font-weight="normal" textLength="7.98" lengthAdjust="spacingAndGlyphs">−1</text>
<text x="210.50" y="346.80" font-size="7.0" text-anchor="start" fill="#333" font-weight="normal">1</text>
<text x="211.30" y="361.10" font-size="7.0" text-anchor="start" fill="#333" font-weight="normal">0</text>
<text x="210.00" y="375.50" font-size="7.7" text-anchor="start" fill="#333" font-weight="normal" textLength="7.98" lengthAdjust="spacingAndGlyphs">−1</text>
<text x="215.60" y="329.00" font-size="8.2" text-anchor="middle" fill="#333" font-weight="normal" textLength="24.92" lengthAdjust="spacingAndGlyphs">z-score</text>
<text x="239.40" y="280.40" font-size="12.4" text-anchor="start" fill="#000" font-weight="bold" stroke="#000" stroke-width="0.35">d</text>
<rect x="269.00" y="281.20" width="38.10" height="9.80" fill="#000"/>
<text x="288.05" y="289.40" font-size="8.6" text-anchor="middle" fill="#fff" font-weight="normal" textLength="23.3" lengthAdjust="spacingAndGlyphs">KEGG</text>
<text x="592.00" y="275.00" font-size="7.92" text-anchor="middle" fill="#333" font-weight="normal" textLength="23.60" lengthAdjust="spacingAndGlyphs">z-score</text>
<defs><linearGradient id="gd2" x1="0" x2="1" y1="0" y2="0"><stop offset="0" stop-color="#fc6414"/><stop offset="0.5" stop-color="#f6f6f6"/><stop offset="1" stop-color="#1c4d9a"/></linearGradient></defs>
<rect x="558.00" y="286.30" width="68.70" height="4.20" fill="url(#gd2)"/>
<text x="560.90" y="283.90" font-size="6.8" text-anchor="middle" fill="#333" font-weight="normal">3</text>
<text x="592.00" y="283.90" font-size="6.8" text-anchor="middle" fill="#333" font-weight="normal">0</text>
<text x="624.20" y="283.90" font-size="7.48" text-anchor="middle" fill="#333" font-weight="normal" textLength="7.75" lengthAdjust="spacingAndGlyphs">−3</text>
<rect x="269.20" y="293.00" width="20.88" height="8.66" fill="#fc8c4e"/>
<rect x="289.08" y="293.00" width="20.88" height="8.66" fill="#fc8c4e"/>
<rect x="308.96" y="293.00" width="20.88" height="8.66" fill="#b4c8dc"/>
<rect x="328.84" y="293.00" width="20.88" height="8.66" fill="#b4c8dc"/>
<rect x="348.72" y="293.00" width="20.88" height="8.66" fill="#e6e9ee"/>
<rect x="368.60" y="293.00" width="20.88" height="8.66" fill="#dce4ec"/>
<rect x="388.48" y="293.00" width="20.88" height="8.66" fill="#b8cade"/>
<rect x="408.36" y="293.00" width="20.88" height="8.66" fill="#b8cade"/>
<rect x="428.24" y="293.00" width="20.88" height="8.66" fill="#e6e9ee"/>
<rect x="448.12" y="293.00" width="20.88" height="8.66" fill="#eceff2"/>
<rect x="468.00" y="293.00" width="20.88" height="8.66" fill="#e6e9ee"/>
<rect x="487.88" y="293.00" width="20.88" height="8.66" fill="#bccfe0"/>
<rect x="507.76" y="293.00" width="20.88" height="8.66" fill="#e6e9ee"/>
<rect x="527.64" y="293.00" width="20.88" height="8.66" fill="#dce4ec"/>
<rect x="547.52" y="293.00" width="20.88" height="8.66" fill="#fdaa7c"/>
<rect x="567.40" y="293.00" width="20.88" height="8.66" fill="#fde4d4"/>
<rect x="587.28" y="293.00" width="20.88" height="8.66" fill="#e6e9ee"/>
<rect x="607.16" y="293.00" width="19.88" height="8.66" fill="#a4bcd6"/>
<rect x="269.20" y="300.66" width="20.88" height="8.66" fill="#fc9c64"/>
<rect x="289.08" y="300.66" width="20.88" height="8.66" fill="#fc9458"/>
<rect x="308.96" y="300.66" width="20.88" height="8.66" fill="#b4c8dc"/>
<rect x="328.84" y="300.66" width="20.88" height="8.66" fill="#bccfe0"/>
<rect x="348.72" y="300.66" width="20.88" height="8.66" fill="#e6e9ee"/>
<rect x="368.60" y="300.66" width="20.88" height="8.66" fill="#eceef2"/>
<rect x="388.48" y="300.66" width="20.88" height="8.66" fill="#b0c4da"/>
<rect x="408.36" y="300.66" width="20.88" height="8.66" fill="#a8c0d8"/>
<rect x="428.24" y="300.66" width="20.88" height="8.66" fill="#e6e9ee"/>
<rect x="448.12" y="300.66" width="20.88" height="8.66" fill="#dce4ec"/>
<rect x="468.00" y="300.66" width="20.88" height="8.66" fill="#e6e9ee"/>
<rect x="487.88" y="300.66" width="20.88" height="8.66" fill="#c4d4e2"/>
<rect x="507.76" y="300.66" width="20.88" height="8.66" fill="#e6e9ee"/>
<rect x="527.64" y="300.66" width="20.88" height="8.66" fill="#e6e9ee"/>
<rect x="547.52" y="300.66" width="20.88" height="8.66" fill="#fdaa7c"/>
<rect x="567.40" y="300.66" width="20.88" height="8.66" fill="#fdece0"/>
<rect x="587.28" y="300.66" width="20.88" height="8.66" fill="#e6e9ee"/>
<rect x="607.16" y="300.66" width="19.88" height="8.66" fill="#84a4cc"/>
<rect x="269.20" y="308.32" width="20.88" height="8.66" fill="#c4d4e2"/>
<rect x="289.08" y="308.32" width="20.88" height="8.66" fill="#c4d4e2"/>
<rect x="308.96" y="308.32" width="20.88" height="8.66" fill="#fc7e3e"/>
<rect x="328.84" y="308.32" width="20.88" height="8.66" fill="#fc7a36"/>
<rect x="348.72" y="308.32" width="20.88" height="8.66" fill="#e6e9ee"/>
<rect x="368.60" y="308.32" width="20.88" height="8.66" fill="#a4bcd6"/>
<rect x="388.48" y="308.32" width="20.88" height="8.66" fill="#fdd4bc"/>
<rect x="408.36" y="308.32" width="20.88" height="8.66" fill="#fdf0e6"/>
<rect x="428.24" y="308.32" width="20.88" height="8.66" fill="#e6e9ee"/>
<rect x="448.12" y="308.32" width="20.88" height="8.66" fill="#e6e9ee"/>
<rect x="468.00" y="308.32" width="20.88" height="8.66" fill="#e6e9ee"/>
<rect x="487.88" y="308.32" width="20.88" height="8.66" fill="#fdd0b4"/>
<rect x="507.76" y="308.32" width="20.88" height="8.66" fill="#e6e9ee"/>
<rect x="527.64" y="308.32" width="20.88" height="8.66" fill="#d4dee8"/>
<rect x="547.52" y="308.32" width="20.88" height="8.66" fill="#ccd8e6"/>
<rect x="567.40" y="308.32" width="20.88" height="8.66" fill="#bccfe0"/>
<rect x="587.28" y="308.32" width="20.88" height="8.66" fill="#e6e9ee"/>
<rect x="607.16" y="308.32" width="19.88" height="8.66" fill="#fdd8c2"/>
<rect x="269.20" y="315.98" width="20.88" height="8.66" fill="#dce4ec"/>
<rect x="289.08" y="315.98" width="20.88" height="8.66" fill="#e6e9ee"/>
<rect x="308.96" y="315.98" width="20.88" height="8.66" fill="#bccfe0"/>
<rect x="328.84" y="315.98" width="20.88" height="8.66" fill="#bccfe0"/>
<rect x="348.72" y="315.98" width="20.88" height="8.66" fill="#fc6414"/>
<rect x="368.60" y="315.98" width="20.88" height="8.66" fill="#fc7026"/>
<rect x="388.48" y="315.98" width="20.88" height="8.66" fill="#fafafa"/>
<rect x="408.36" y="315.98" width="20.88" height="8.66" fill="#fdece0"/>
<rect x="428.24" y="315.98" width="20.88" height="8.66" fill="#e6e9ee"/>
<rect x="448.12" y="315.98" width="20.88" height="8.66" fill="#ccd8e6"/>
<rect x="468.00" y="315.98" width="20.88" height="8.66" fill="#e6e9ee"/>
<rect x="487.88" y="315.98" width="20.88" height="8.66" fill="#fdf6ee"/>
<rect x="507.76" y="315.98" width="20.88" height="8.66" fill="#e6e9ee"/>
<rect x="527.64" y="315.98" width="20.88" height="8.66" fill="#bccfe0"/>
<rect x="547.52" y="315.98" width="20.88" height="8.66" fill="#bccfe0"/>
<rect x="567.40" y="315.98" width="20.88" height="8.66" fill="#fcfaf6"/>
<rect x="587.28" y="315.98" width="20.88" height="8.66" fill="#e6e9ee"/>
<rect x="607.16" y="315.98" width="19.88" height="8.66" fill="#fdd8c2"/>
<rect x="269.20" y="323.64" width="20.88" height="8.66" fill="#e6e9ee"/>
<rect x="289.08" y="323.64" width="20.88" height="8.66" fill="#c4d4e2"/>
<rect x="308.96" y="323.64" width="20.88" height="8.66" fill="#fde4d4"/>
<rect x="328.84" y="323.64" width="20.88" height="8.66" fill="#fde6d8"/>
<rect x="348.72" y="323.64" width="20.88" height="8.66" fill="#e6e9ee"/>
<rect x="368.60" y="323.64" width="20.88" height="8.66" fill="#fdd8c0"/>
<rect x="388.48" y="323.64" width="20.88" height="8.66" fill="#fc6a1e"/>
<rect x="408.36" y="323.64" width="20.88" height="8.66" fill="#fc6a1e"/>
<rect x="428.24" y="323.64" width="20.88" height="8.66" fill="#e6e9ee"/>
<rect x="448.12" y="323.64" width="20.88" height="8.66" fill="#fdf0e6"/>
<rect x="468.00" y="323.64" width="20.88" height="8.66" fill="#e6e9ee"/>
<rect x="487.88" y="323.64" width="20.88" height="8.66" fill="#fde4d6"/>
<rect x="507.76" y="323.64" width="20.88" height="8.66" fill="#fdf0e6"/>
<rect x="527.64" y="323.64" width="20.88" height="8.66" fill="#c8d6e4"/>
<rect x="547.52" y="323.64" width="20.88" height="8.66" fill="#c4d4e2"/>
<rect x="567.40" y="323.64" width="20.88" height="8.66" fill="#a4bcd6"/>
<rect x="587.28" y="323.64" width="20.88" height="8.66" fill="#e6e9ee"/>
<rect x="607.16" y="323.64" width="19.88" height="8.66" fill="#c8d6e4"/>
<rect x="269.20" y="331.30" width="20.88" height="8.66" fill="#b4c8dc"/>
<rect x="289.08" y="331.30" width="20.88" height="8.66" fill="#b4c8dc"/>
<rect x="308.96" y="331.30" width="20.88" height="8.66" fill="#f8f8f6"/>
<rect x="328.84" y="331.30" width="20.88" height="8.66" fill="#fdece0"/>
<rect x="348.72" y="331.30" width="20.88" height="8.66" fill="#fdd8c2"/>
<rect x="368.60" y="331.30" width="20.88" height="8.66" fill="#fdeee4"/>
<rect x="388.48" y="331.30" width="20.88" height="8.66" fill="#fdece0"/>
<rect x="408.36" y="331.30" width="20.88" height="8.66" fill="#f8f8f6"/>
<rect x="428.24" y="331.30" width="20.88" height="8.66" fill="#fc6414"/>
<rect x="448.12" y="331.30" width="20.88" height="8.66" fill="#fc6818"/>
<rect x="468.00" y="331.30" width="20.88" height="8.66" fill="#e6e9ee"/>
<rect x="487.88" y="331.30" width="20.88" height="8.66" fill="#c8d6e4"/>
<rect x="507.76" y="331.30" width="20.88" height="8.66" fill="#e6e9ee"/>
<rect x="527.64" y="331.30" width="20.88" height="8.66" fill="#fde8dc"/>
<rect x="547.52" y="331.30" width="20.88" height="8.66" fill="#acc2da"/>
<rect x="567.40" y="331.30" width="20.88" height="8.66" fill="#fde4d4"/>
<rect x="587.28" y="331.30" width="20.88" height="8.66" fill="#e6e9ee"/>
<rect x="607.16" y="331.30" width="19.88" height="8.66" fill="#fde4d4"/>
<rect x="269.20" y="338.96" width="20.88" height="8.66" fill="#b4c8dc"/>
<rect x="289.08" y="338.96" width="20.88" height="8.66" fill="#b8cade"/>
<rect x="308.96" y="338.96" width="20.88" height="8.66" fill="#fdd8c0"/>
<rect x="328.84" y="338.96" width="20.88" height="8.66" fill="#dce4ec"/>
<rect x="348.72" y="338.96" width="20.88" height="8.66" fill="#e6e9ee"/>
<rect x="368.60" y="338.96" width="20.88" height="8.66" fill="#fde0cc"/>
<rect x="388.48" y="338.96" width="20.88" height="8.66" fill="#bccfe0"/>
<rect x="408.36" y="338.96" width="20.88" height="8.66" fill="#d8e2ec"/>
<rect x="428.24" y="338.96" width="20.88" height="8.66" fill="#e6e9ee"/>
<rect x="448.12" y="338.96" width="20.88" height="8.66" fill="#fafaf8"/>
<rect x="468.00" y="338.96" width="20.88" height="8.66" fill="#fc6414"/>
<rect x="487.88" y="338.96" width="20.88" height="8.66" fill="#fc7026"/>
<rect x="507.76" y="338.96" width="20.88" height="8.66" fill="#e6e9ee"/>
<rect x="527.64" y="338.96" width="20.88" height="8.66" fill="#f8f8f6"/>
<rect x="547.52" y="338.96" width="20.88" height="8.66" fill="#bccfe0"/>
<rect x="567.40" y="338.96" width="20.88" height="8.66" fill="#fdd4bc"/>
<rect x="587.28" y="338.96" width="20.88" height="8.66" fill="#e6e9ee"/>
<rect x="607.16" y="338.96" width="19.88" height="8.66" fill="#e6e9ee"/>
<rect x="269.20" y="346.62" width="20.88" height="8.66" fill="#b4c8dc"/>
<rect x="289.08" y="346.62" width="20.88" height="8.66" fill="#c4d4e2"/>
<rect x="308.96" y="346.62" width="20.88" height="8.66" fill="#b0c4da"/>
<rect x="328.84" y="346.62" width="20.88" height="8.66" fill="#fdcbaa"/>
<rect x="348.72" y="346.62" width="20.88" height="8.66" fill="#e6e9ee"/>
<rect x="368.60" y="346.62" width="20.88" height="8.66" fill="#d4dee8"/>
<rect x="388.48" y="346.62" width="20.88" height="8.66" fill="#fdece0"/>
<rect x="408.36" y="346.62" width="20.88" height="8.66" fill="#fdf0e6"/>
<rect x="428.24" y="346.62" width="20.88" height="8.66" fill="#e6e9ee"/>
<rect x="448.12" y="346.62" width="20.88" height="8.66" fill="#fdfaf6"/>
<rect x="468.00" y="346.62" width="20.88" height="8.66" fill="#e6e9ee"/>
<rect x="487.88" y="346.62" width="20.88" height="8.66" fill="#eceff2"/>
<rect x="507.76" y="346.62" width="20.88" height="8.66" fill="#fc6414"/>
<rect x="527.64" y="346.62" width="20.88" height="8.66" fill="#fc6a1a"/>
<rect x="547.52" y="346.62" width="20.88" height="8.66" fill="#ccd8e6"/>
<rect x="567.40" y="346.62" width="20.88" height="8.66" fill="#fde4d4"/>
<rect x="587.28" y="346.62" width="20.88" height="8.66" fill="#e6e9ee"/>
<rect x="607.16" y="346.62" width="19.88" height="8.66" fill="#fdc4a0"/>
<rect x="269.20" y="354.28" width="20.88" height="8.66" fill="#fde8dc"/>
<rect x="289.08" y="354.28" width="20.88" height="8.66" fill="#fdeee4"/>
<rect x="308.96" y="354.28" width="20.88" height="8.66" fill="#fdc4a0"/>
<rect x="328.84" y="354.28" width="20.88" height="8.66" fill="#bccfe0"/>
<rect x="348.72" y="354.28" width="20.88" height="8.66" fill="#e6e9ee"/>
<rect x="368.60" y="354.28" width="20.88" height="8.66" fill="#dce4ec"/>
<rect x="388.48" y="354.28" width="20.88" height="8.66" fill="#d8e2ec"/>
<rect x="408.36" y="354.28" width="20.88" height="8.66" fill="#b4c8dc"/>
<rect x="428.24" y="354.28" width="20.88" height="8.66" fill="#e6e9ee"/>
<rect x="448.12" y="354.28" width="20.88" height="8.66" fill="#bccfe0"/>
<rect x="468.00" y="354.28" width="20.88" height="8.66" fill="#e6e9ee"/>
<rect x="487.88" y="354.28" width="20.88" height="8.66" fill="#e6e9ee"/>
<rect x="507.76" y="354.28" width="20.88" height="8.66" fill="#e6e9ee"/>
<rect x="527.64" y="354.28" width="20.88" height="8.66" fill="#eceff2"/>
<rect x="547.52" y="354.28" width="20.88" height="8.66" fill="#fdaa7c"/>
<rect x="567.40" y="354.28" width="20.88" height="8.66" fill="#8caad0"/>
<rect x="587.28" y="354.28" width="20.88" height="8.66" fill="#e6e9ee"/>
<rect x="607.16" y="354.28" width="19.88" height="8.66" fill="#dce4ec"/>
<rect x="269.20" y="361.94" width="20.88" height="8.66" fill="#fdf6f0"/>
<rect x="289.08" y="361.94" width="20.88" height="8.66" fill="#f8f8f8"/>
<rect x="308.96" y="361.94" width="20.88" height="8.66" fill="#b8cade"/>
<rect x="328.84" y="361.94" width="20.88" height="8.66" fill="#fde8dc"/>
<rect x="348.72" y="361.94" width="20.88" height="8.66" fill="#e6e9ee"/>
<rect x="368.60" y="361.94" width="20.88" height="8.66" fill="#e6e9ee"/>
<rect x="388.48" y="361.94" width="20.88" height="8.66" fill="#e6e9ee"/>
<rect x="408.36" y="361.94" width="20.88" height="8.66" fill="#e6e9ee"/>
<rect x="428.24" y="361.94" width="20.88" height="8.66" fill="#e6e9ee"/>
<rect x="448.12" y="361.94" width="20.88" height="8.66" fill="#f8f8f6"/>
<rect x="468.00" y="361.94" width="20.88" height="8.66" fill="#e6e9ee"/>
<rect x="487.88" y="361.94" width="20.88" height="8.66" fill="#e6e9ee"/>
<rect x="507.76" y="361.94" width="20.88" height="8.66" fill="#e6e9ee"/>
<rect x="527.64" y="361.94" width="20.88" height="8.66" fill="#fdf0e6"/>
<rect x="547.52" y="361.94" width="20.88" height="8.66" fill="#e6e9ee"/>
<rect x="567.40" y="361.94" width="20.88" height="8.66" fill="#fc8c50"/>
<rect x="587.28" y="361.94" width="20.88" height="8.66" fill="#e6e9ee"/>
<rect x="607.16" y="361.94" width="19.88" height="8.66" fill="#dce4ec"/>
<rect x="269.20" y="369.60" width="20.88" height="8.66" fill="#fdf2ea"/>
<rect x="289.08" y="369.60" width="20.88" height="8.66" fill="#fde8dc"/>
<rect x="308.96" y="369.60" width="20.88" height="8.66" fill="#f6f8f6"/>
<rect x="328.84" y="369.60" width="20.88" height="8.66" fill="#c8d6e4"/>
<rect x="348.72" y="369.60" width="20.88" height="8.66" fill="#e6e9ee"/>
<rect x="368.60" y="369.60" width="20.88" height="8.66" fill="#e6e9ee"/>
<rect x="388.48" y="369.60" width="20.88" height="8.66" fill="#d8e2ec"/>
<rect x="408.36" y="369.60" width="20.88" height="8.66" fill="#fdf0e6"/>
<rect x="428.24" y="369.60" width="20.88" height="8.66" fill="#e6e9ee"/>
<rect x="448.12" y="369.60" width="20.88" height="8.66" fill="#c4d4e2"/>
<rect x="468.00" y="369.60" width="20.88" height="8.66" fill="#e6e9ee"/>
<rect x="487.88" y="369.60" width="20.88" height="8.66" fill="#b4c8dc"/>
<rect x="507.76" y="369.60" width="20.88" height="8.66" fill="#e6e9ee"/>
<rect x="527.64" y="369.60" width="20.88" height="8.66" fill="#e6e9ee"/>
<rect x="547.52" y="369.60" width="20.88" height="8.66" fill="#fdfaf4"/>
<rect x="567.40" y="369.60" width="20.88" height="8.66" fill="#a8c0d8"/>
<rect x="587.28" y="369.60" width="20.88" height="8.66" fill="#fc6414"/>
<rect x="607.16" y="369.60" width="19.88" height="8.66" fill="#eceff2"/>
<rect x="269.20" y="377.26" width="20.88" height="7.66" fill="#eceff2"/>
<rect x="289.08" y="377.26" width="20.88" height="7.66" fill="#f6f7f6"/>
<rect x="308.96" y="377.26" width="20.88" height="7.66" fill="#fdf6ee"/>
<rect x="328.84" y="377.26" width="20.88" height="7.66" fill="#fde8dc"/>
<rect x="348.72" y="377.26" width="20.88" height="7.66" fill="#e6e9ee"/>
<rect x="368.60" y="377.26" width="20.88" height="7.66" fill="#c8d6e4"/>
<rect x="388.48" y="377.26" width="20.88" height="7.66" fill="#e8ecf0"/>
<rect x="408.36" y="377.26" width="20.88" height="7.66" fill="#f8f8f6"/>
<rect x="428.24" y="377.26" width="20.88" height="7.66" fill="#e6e9ee"/>
<rect x="448.12" y="377.26" width="20.88" height="7.66" fill="#eceff2"/>
<rect x="468.00" y="377.26" width="20.88" height="7.66" fill="#e6e9ee"/>
<rect x="487.88" y="377.26" width="20.88" height="7.66" fill="#f8f8f4"/>
<rect x="507.76" y="377.26" width="20.88" height="7.66" fill="#e6e9ee"/>
<rect x="527.64" y="377.26" width="20.88" height="7.66" fill="#f6f7f4"/>
<rect x="547.52" y="377.26" width="20.88" height="7.66" fill="#fdeee4"/>
<rect x="567.40" y="377.26" width="20.88" height="7.66" fill="#dce4ec"/>
<rect x="587.28" y="377.26" width="20.88" height="7.66" fill="#e6e9ee"/>
<rect x="607.16" y="377.26" width="19.88" height="7.66" fill="#fca070"/>
<text x="631.30" y="299.53" font-size="8.2" text-anchor="start" fill="#222" font-weight="normal" textLength="30.83" lengthAdjust="spacingAndGlyphs">Germline</text>
<text x="631.30" y="307.19" font-size="8.2" text-anchor="start" fill="#222" font-weight="normal" textLength="26.18" lengthAdjust="spacingAndGlyphs">Sperms</text>
<text x="631.30" y="314.85" font-size="8.2" text-anchor="start" fill="#222" font-weight="normal" textLength="24.07" lengthAdjust="spacingAndGlyphs">Muscle</text>
<text x="631.30" y="322.51" font-size="8.2" text-anchor="start" fill="#222" font-weight="normal" textLength="13.52" lengthAdjust="spacingAndGlyphs">Glia</text>
<text x="631.30" y="330.17" font-size="8.2" text-anchor="start" fill="#222" font-weight="normal" textLength="53.66" lengthAdjust="spacingAndGlyphs">Gonadal sheath</text>
<text x="631.30" y="337.83" font-size="8.2" text-anchor="start" fill="#222" font-weight="normal" textLength="40.55" lengthAdjust="spacingAndGlyphs">Hypodermis</text>
<text x="631.30" y="345.49" font-size="8.2" text-anchor="start" fill="#222" font-weight="normal" textLength="44.35" lengthAdjust="spacingAndGlyphs">Coelomocyte</text>
<text x="631.30" y="353.15" font-size="8.2" text-anchor="start" fill="#222" font-weight="normal" textLength="28.73" lengthAdjust="spacingAndGlyphs">Intestine</text>
<text x="631.30" y="360.81" font-size="8.2" text-anchor="start" fill="#222" font-weight="normal" textLength="35.90" lengthAdjust="spacingAndGlyphs">Embryonic</text>
<text x="631.30" y="368.47" font-size="8.2" text-anchor="start" fill="#222" font-weight="normal" textLength="45.20" lengthAdjust="spacingAndGlyphs">Spermatheca</text>
<text x="631.30" y="376.13" font-size="8.2" text-anchor="start" fill="#222" font-weight="normal" textLength="45.20" lengthAdjust="spacingAndGlyphs">Uterine seam</text>
<text x="631.30" y="383.79" font-size="8.2" text-anchor="start" fill="#222" font-weight="normal" textLength="27.88" lengthAdjust="spacingAndGlyphs">Pharynx</text>
<text x="282.14" y="392.00" font-size="8.2" text-anchor="end" fill="#333" font-weight="normal" transform="rotate(-45 282.14 392.0)" textLength="52.38" lengthAdjust="spacingAndGlyphs">DNA replication</text>
<text x="302.02" y="392.00" font-size="8.2" text-anchor="end" fill="#333" font-weight="normal" transform="rotate(-45 302.02 392.0)" textLength="54.06" lengthAdjust="spacingAndGlyphs">Mismatch repair</text>
<text x="321.90" y="392.00" font-size="8.2" text-anchor="end" fill="#333" font-weight="normal" transform="rotate(-45 321.9 392.0)" textLength="84.06" lengthAdjust="spacingAndGlyphs">ECM receptor interaction</text>
<text x="341.78" y="392.00" font-size="8.2" text-anchor="end" fill="#333" font-weight="normal" transform="rotate(-45 341.78 392.0)" textLength="73.91" lengthAdjust="spacingAndGlyphs">Arg &amp; Pro metabolism</text>
<text x="361.66" y="392.00" font-size="8.2" text-anchor="end" fill="#333" font-weight="normal" transform="rotate(-45 361.65999999999997 392.0)" textLength="114.91" lengthAdjust="spacingAndGlyphs">Taurine &amp; hypotaurine metabolism</text>
<text x="381.54" y="392.00" font-size="8.2" text-anchor="end" fill="#333" font-weight="normal" transform="rotate(-45 381.53999999999996 392.0)" textLength="113.63" lengthAdjust="spacingAndGlyphs">Mucin-type O-glycan biosynthesis</text>
<text x="401.42" y="392.00" font-size="8.2" text-anchor="end" fill="#333" font-weight="normal" transform="rotate(-45 401.41999999999996 392.0)" textLength="79.43" lengthAdjust="spacingAndGlyphs">ErbB signaling pathway</text>
<text x="421.30" y="392.00" font-size="8.2" text-anchor="end" fill="#333" font-weight="normal" transform="rotate(-45 421.29999999999995 392.0)" textLength="125.47" lengthAdjust="spacingAndGlyphs">Phosphatidylinositol signaling system</text>
<text x="441.18" y="392.00" font-size="8.2" text-anchor="end" fill="#333" font-weight="normal" transform="rotate(-45 441.17999999999995 392.0)" textLength="92.37" lengthAdjust="spacingAndGlyphs">Phe, Tyr &amp; Trp biosynthesis</text>
<text x="461.06" y="392.00" font-size="8.2" text-anchor="end" fill="#333" font-weight="normal" transform="rotate(-45 461.05999999999995 392.0)" textLength="55.76" lengthAdjust="spacingAndGlyphs">Arg biosynthesis</text>
<text x="480.94" y="392.00" font-size="8.2" text-anchor="end" fill="#333" font-weight="normal" transform="rotate(-45 480.93999999999994 392.0)" textLength="108.15" lengthAdjust="spacingAndGlyphs">Glycosaminoglycan degradation</text>
<text x="500.82" y="392.00" font-size="8.2" text-anchor="end" fill="#333" font-weight="normal" transform="rotate(-45 500.81999999999994 392.0)" textLength="85.34" lengthAdjust="spacingAndGlyphs">Other glycan degradation</text>
<text x="520.70" y="392.00" font-size="8.2" text-anchor="end" fill="#333" font-weight="normal" transform="rotate(-45 520.7 392.0)" textLength="93.95" lengthAdjust="spacingAndGlyphs">α-Linolenic acid metabolism</text>
<text x="540.58" y="392.00" font-size="8.2" text-anchor="end" fill="#333" font-weight="normal" transform="rotate(-45 540.5799999999999 392.0)" textLength="121.66" lengthAdjust="spacingAndGlyphs">Unsaturated fatty acids biosynthesis</text>
<text x="560.46" y="392.00" font-size="8.2" text-anchor="end" fill="#333" font-weight="normal" transform="rotate(-45 560.46 392.0)" textLength="82.38" lengthAdjust="spacingAndGlyphs">Notch signaling pathway</text>
<text x="580.34" y="392.00" font-size="8.2" text-anchor="end" fill="#333" font-weight="normal" transform="rotate(-45 580.3399999999999 392.0)" textLength="87.45" lengthAdjust="spacingAndGlyphs">Oxidative phosphorylation</text>
<text x="600.22" y="392.00" font-size="8.2" text-anchor="end" fill="#333" font-weight="normal" transform="rotate(-45 600.22 392.0)" textLength="124.62" lengthAdjust="spacingAndGlyphs">Mannose-type O-glycan biosynthesis</text>
<text x="620.10" y="392.00" font-size="8.2" text-anchor="end" fill="#333" font-weight="normal" transform="rotate(-45 620.0999999999999 392.0)" textLength="110.68" lengthAdjust="spacingAndGlyphs">Xenobiotics by cytochrome P450</text>
</svg></body></html>
